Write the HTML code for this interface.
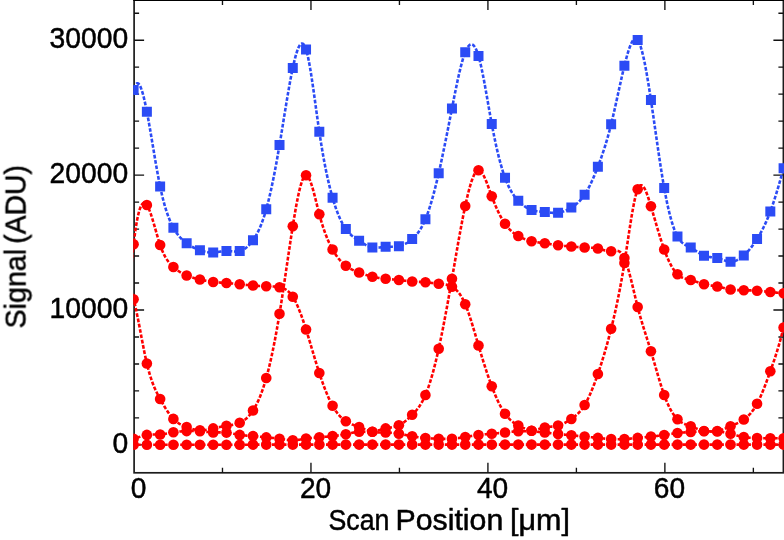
<!DOCTYPE html>
<html><head><meta charset="utf-8"><title>chart</title>
<style>
html,body{margin:0;padding:0;background:#fff;}
body{width:784px;height:540px;overflow:hidden;}
svg{display:block;}
text{will-change:transform;font-family:"Liberation Sans",sans-serif;fill:#000;stroke:#000;stroke-width:0.5px;stroke-linejoin:round;}
</style></head><body>
<svg width="784" height="540" viewBox="0 0 784 540">
<rect width="784" height="540" fill="#fff"/>
<defs><clipPath id="cp"><rect x="133.35" y="0" width="651" height="473.6"/></clipPath></defs>

<g stroke="#1c1c1c" fill="none">
<rect x="134.1" y="0.1" width="649.30" height="472.70" stroke-width="1.7"/>
<path d="M134.1,444.90h10 M783.4,444.90h-10 M134.1,417.92h5 M783.4,417.92h-5 M134.1,390.94h5 M783.4,390.94h-5 M134.1,363.96h5 M783.4,363.96h-5 M134.1,336.98h5 M783.4,336.98h-5 M134.1,310.00h10 M783.4,310.00h-10 M134.1,283.02h5 M783.4,283.02h-5 M134.1,256.04h5 M783.4,256.04h-5 M134.1,229.06h5 M783.4,229.06h-5 M134.1,202.08h5 M783.4,202.08h-5 M134.1,175.10h10 M783.4,175.10h-10 M134.1,148.12h5 M783.4,148.12h-5 M134.1,121.14h5 M783.4,121.14h-5 M134.1,94.16h5 M783.4,94.16h-5 M134.1,67.18h5 M783.4,67.18h-5 M134.1,40.20h10 M783.4,40.20h-10 M134.1,13.22h5 M783.4,13.22h-5 M222.48,472.8v-5 M222.48,0.1v5 M310.96,472.8v-10 M310.96,0.1v10 M399.44,472.8v-5 M399.44,0.1v5 M487.92,472.8v-10 M487.92,0.1v10 M576.40,472.8v-5 M576.40,0.1v5 M664.88,472.8v-10 M664.88,0.1v10 M753.36,472.8v-5 M753.36,0.1v5" stroke="#111" stroke-width="1.35"/>
<rect x="133.25" y="0" width="651" height="1" fill="#000" stroke="none"/>
</g>
<g clip-path="url(#cp)">
<path d="M131.60,444.80 L132.10,444.80 L132.60,444.80 L133.10,444.80 L133.60,444.80 L134.10,444.80 L134.60,444.80 L135.10,444.80 L135.60,444.80 L136.10,444.80 L136.60,444.80 L137.10,444.80 L137.60,444.80 L138.10,444.80 L138.60,444.80 L139.10,444.80 L139.60,444.80 L140.10,444.80 L140.60,444.80 L141.10,444.80 L141.60,444.80 L142.10,444.80 L142.60,444.80 L143.10,444.80 L143.60,444.80 L144.10,444.80 L144.60,444.80 L145.10,444.80 L145.60,444.80 L146.10,444.80 L146.60,444.80 L147.10,444.80 L147.60,444.80 L148.10,444.80 L148.60,444.80 L149.10,444.80 L149.60,444.80 L150.10,444.80 L150.60,444.80 L151.10,444.80 L151.60,444.80 L152.10,444.80 L152.60,444.80 L153.10,444.80 L153.60,444.80 L154.10,444.80 L154.60,444.80 L155.10,444.80 L155.60,444.80 L156.10,444.80 L156.60,444.80 L157.10,444.80 L157.60,444.80 L158.10,444.80 L158.60,444.80 L159.10,444.80 L159.60,444.80 L160.10,444.80 L160.60,444.80 L161.10,444.80 L161.60,444.80 L162.10,444.80 L162.60,444.80 L163.10,444.80 L163.60,444.80 L164.10,444.80 L164.60,444.80 L165.10,444.80 L165.60,444.80 L166.10,444.80 L166.60,444.80 L167.10,444.80 L167.60,444.80 L168.10,444.80 L168.60,444.80 L169.10,444.80 L169.60,444.80 L170.10,444.80 L170.60,444.80 L171.10,444.80 L171.60,444.80 L172.10,444.80 L172.60,444.80 L173.10,444.80 L173.60,444.80 L174.10,444.80 L174.60,444.80 L175.10,444.80 L175.60,444.80 L176.10,444.80 L176.60,444.80 L177.10,444.80 L177.60,444.80 L178.10,444.80 L178.60,444.80 L179.10,444.80 L179.60,444.80 L180.10,444.80 L180.60,444.80 L181.10,444.80 L181.60,444.80 L182.10,444.80 L182.60,444.80 L183.10,444.80 L183.60,444.80 L184.10,444.80 L184.60,444.80 L185.10,444.80 L185.60,444.80 L186.10,444.80 L186.60,444.80 L187.10,444.80 L187.60,444.80 L188.10,444.80 L188.60,444.80 L189.10,444.80 L189.60,444.80 L190.10,444.80 L190.60,444.80 L191.10,444.80 L191.60,444.80 L192.10,444.80 L192.60,444.80 L193.10,444.80 L193.60,444.80 L194.10,444.80 L194.60,444.80 L195.10,444.80 L195.60,444.80 L196.10,444.80 L196.60,444.80 L197.10,444.80 L197.60,444.80 L198.10,444.80 L198.60,444.80 L199.10,444.80 L199.60,444.80 L200.10,444.80 L200.60,444.80 L201.10,444.80 L201.60,444.80 L202.10,444.80 L202.60,444.80 L203.10,444.80 L203.60,444.80 L204.10,444.80 L204.60,444.80 L205.10,444.80 L205.60,444.80 L206.10,444.80 L206.60,444.80 L207.10,444.80 L207.60,444.80 L208.10,444.80 L208.60,444.80 L209.10,444.80 L209.60,444.80 L210.10,444.80 L210.60,444.80 L211.10,444.80 L211.60,444.80 L212.10,444.80 L212.60,444.80 L213.10,444.80 L213.60,444.80 L214.10,444.80 L214.60,444.80 L215.10,444.80 L215.60,444.80 L216.10,444.80 L216.60,444.80 L217.10,444.80 L217.60,444.80 L218.10,444.80 L218.60,444.80 L219.10,444.80 L219.60,444.79 L220.10,444.79 L220.60,444.79 L221.10,444.79 L221.60,444.79 L222.10,444.79 L222.60,444.79 L223.10,444.79 L223.60,444.80 L224.10,444.80 L224.60,444.80 L225.10,444.80 L225.60,444.80 L226.10,444.80 L226.60,444.80 L227.10,444.80 L227.60,444.80 L228.10,444.80 L228.60,444.81 L229.10,444.81 L229.60,444.81 L230.10,444.81 L230.60,444.81 L231.10,444.82 L231.60,444.82 L232.10,444.82 L232.60,444.82 L233.10,444.82 L233.60,444.82 L234.10,444.82 L234.60,444.82 L235.10,444.82 L235.60,444.82 L236.10,444.82 L236.60,444.82 L237.10,444.82 L237.60,444.82 L238.10,444.81 L238.60,444.81 L239.10,444.81 L239.60,444.80 L240.10,444.80 L240.60,444.79 L241.10,444.78 L241.60,444.78 L242.10,444.77 L242.60,444.76 L243.10,444.76 L243.60,444.75 L244.10,444.74 L244.60,444.73 L245.10,444.72 L245.60,444.71 L246.10,444.70 L246.60,444.70 L247.10,444.69 L247.60,444.68 L248.10,444.67 L248.60,444.66 L249.10,444.65 L249.60,444.64 L250.10,444.64 L250.60,444.63 L251.10,444.62 L251.60,444.62 L252.10,444.61 L252.60,444.60 L253.10,444.60 L253.60,444.59 L254.10,444.59 L254.60,444.59 L255.10,444.58 L255.60,444.58 L256.10,444.58 L256.60,444.58 L257.10,444.58 L257.60,444.58 L258.10,444.58 L258.60,444.58 L259.10,444.58 L259.60,444.58 L260.10,444.58 L260.60,444.58 L261.10,444.58 L261.60,444.58 L262.10,444.59 L262.60,444.59 L263.10,444.59 L263.60,444.59 L264.10,444.59 L264.60,444.60 L265.10,444.60 L265.60,444.60 L266.10,444.60 L266.60,444.60 L267.10,444.60 L267.60,444.60 L268.10,444.60 L268.60,444.60 L269.10,444.60 L269.60,444.61 L270.10,444.61 L270.60,444.61 L271.10,444.61 L271.60,444.61 L272.10,444.61 L272.60,444.61 L273.10,444.61 L273.60,444.60 L274.10,444.60 L274.60,444.60 L275.10,444.60 L275.60,444.60 L276.10,444.60 L276.60,444.60 L277.10,444.60 L277.60,444.60 L278.10,444.60 L278.60,444.60 L279.10,444.60 L279.60,444.60 L280.10,444.60 L280.60,444.60 L281.10,444.60 L281.60,444.60 L282.10,444.60 L282.60,444.60 L283.10,444.60 L283.60,444.60 L284.10,444.60 L284.60,444.60 L285.10,444.60 L285.60,444.60 L286.10,444.60 L286.60,444.60 L287.10,444.60 L287.60,444.60 L288.10,444.60 L288.60,444.60 L289.10,444.60 L289.60,444.60 L290.10,444.60 L290.60,444.60 L291.10,444.60 L291.60,444.60 L292.10,444.60 L292.60,444.60 L293.10,444.60 L293.60,444.60 L294.10,444.60 L294.60,444.60 L295.10,444.60 L295.60,444.60 L296.10,444.60 L296.60,444.60 L297.10,444.60 L297.60,444.60 L298.10,444.60 L298.60,444.60 L299.10,444.60 L299.60,444.60 L300.10,444.60 L300.60,444.60 L301.10,444.60 L301.60,444.60 L302.10,444.60 L302.60,444.60 L303.10,444.60 L303.60,444.60 L304.10,444.60 L304.60,444.60 L305.10,444.60 L305.60,444.60 L306.10,444.60 L306.60,444.60 L307.10,444.60 L307.60,444.60 L308.10,444.60 L308.60,444.60 L309.10,444.60 L309.60,444.60 L310.10,444.60 L310.60,444.60 L311.10,444.60 L311.60,444.60 L312.10,444.60 L312.60,444.60 L313.10,444.60 L313.60,444.60 L314.10,444.60 L314.60,444.60 L315.10,444.60 L315.60,444.60 L316.10,444.60 L316.60,444.60 L317.10,444.60 L317.60,444.60 L318.10,444.60 L318.60,444.60 L319.10,444.60 L319.60,444.60 L320.10,444.60 L320.60,444.60 L321.10,444.60 L321.60,444.60 L322.10,444.60 L322.60,444.60 L323.10,444.60 L323.60,444.60 L324.10,444.60 L324.60,444.60 L325.10,444.60 L325.60,444.60 L326.10,444.60 L326.60,444.60 L327.10,444.60 L327.60,444.60 L328.10,444.60 L328.60,444.60 L329.10,444.60 L329.60,444.60 L330.10,444.60 L330.60,444.60 L331.10,444.60 L331.60,444.60 L332.10,444.60 L332.60,444.60 L333.10,444.60 L333.60,444.60 L334.10,444.60 L334.60,444.60 L335.10,444.60 L335.60,444.60 L336.10,444.60 L336.60,444.60 L337.10,444.60 L337.60,444.60 L338.10,444.60 L338.60,444.60 L339.10,444.60 L339.60,444.60 L340.10,444.60 L340.60,444.60 L341.10,444.60 L341.60,444.60 L342.10,444.60 L342.60,444.60 L343.10,444.60 L343.60,444.60 L344.10,444.60 L344.60,444.60 L345.10,444.60 L345.60,444.60 L346.10,444.60 L346.60,444.60 L347.10,444.60 L347.60,444.60 L348.10,444.60 L348.60,444.60 L349.10,444.60 L349.60,444.60 L350.10,444.60 L350.60,444.60 L351.10,444.60 L351.60,444.60 L352.10,444.60 L352.60,444.60 L353.10,444.60 L353.60,444.60 L354.10,444.60 L354.60,444.60 L355.10,444.60 L355.60,444.60 L356.10,444.60 L356.60,444.60 L357.10,444.60 L357.60,444.60 L358.10,444.60 L358.60,444.60 L359.10,444.60 L359.60,444.60 L360.10,444.60 L360.60,444.60 L361.10,444.60 L361.60,444.60 L362.10,444.60 L362.60,444.60 L363.10,444.60 L363.60,444.60 L364.10,444.60 L364.60,444.60 L365.10,444.60 L365.60,444.60 L366.10,444.60 L366.60,444.60 L367.10,444.60 L367.60,444.60 L368.10,444.60 L368.60,444.60 L369.10,444.60 L369.60,444.60 L370.10,444.60 L370.60,444.60 L371.10,444.60 L371.60,444.60 L372.10,444.60 L372.60,444.60 L373.10,444.60 L373.60,444.60 L374.10,444.60 L374.60,444.60 L375.10,444.60 L375.60,444.60 L376.10,444.60 L376.60,444.60 L377.10,444.60 L377.60,444.60 L378.10,444.60 L378.60,444.60 L379.10,444.60 L379.60,444.60 L380.10,444.60 L380.60,444.60 L381.10,444.60 L381.60,444.60 L382.10,444.60 L382.60,444.60 L383.10,444.60 L383.60,444.60 L384.10,444.60 L384.60,444.60 L385.10,444.60 L385.60,444.60 L386.10,444.60 L386.60,444.60 L387.10,444.60 L387.60,444.60 L388.10,444.60 L388.60,444.60 L389.10,444.60 L389.60,444.60 L390.10,444.60 L390.60,444.60 L391.10,444.60 L391.60,444.60 L392.10,444.60 L392.60,444.60 L393.10,444.60 L393.60,444.60 L394.10,444.60 L394.60,444.60 L395.10,444.60 L395.60,444.60 L396.10,444.60 L396.60,444.60 L397.10,444.60 L397.60,444.60 L398.10,444.60 L398.60,444.60 L399.10,444.60 L399.60,444.60 L400.10,444.60 L400.60,444.60 L401.10,444.60 L401.60,444.60 L402.10,444.60 L402.60,444.60 L403.10,444.60 L403.60,444.60 L404.10,444.60 L404.60,444.60 L405.10,444.60 L405.60,444.60 L406.10,444.60 L406.60,444.60 L407.10,444.60 L407.60,444.60 L408.10,444.60 L408.60,444.60 L409.10,444.60 L409.60,444.60 L410.10,444.60 L410.60,444.60 L411.10,444.60 L411.60,444.60 L412.10,444.60 L412.60,444.60 L413.10,444.60 L413.60,444.60 L414.10,444.60 L414.60,444.60 L415.10,444.60 L415.60,444.60 L416.10,444.60 L416.60,444.60 L417.10,444.60 L417.60,444.60 L418.10,444.60 L418.60,444.60 L419.10,444.60 L419.60,444.60 L420.10,444.60 L420.60,444.60 L421.10,444.60 L421.60,444.60 L422.10,444.60 L422.60,444.60 L423.10,444.60 L423.60,444.60 L424.10,444.60 L424.60,444.60 L425.10,444.60 L425.60,444.60 L426.10,444.60 L426.60,444.60 L427.10,444.60 L427.60,444.60 L428.10,444.60 L428.60,444.60 L429.10,444.60 L429.60,444.60 L430.10,444.60 L430.60,444.60 L431.10,444.60 L431.60,444.60 L432.10,444.60 L432.60,444.60 L433.10,444.60 L433.60,444.60 L434.10,444.60 L434.60,444.60 L435.10,444.60 L435.60,444.60 L436.10,444.60 L436.60,444.60 L437.10,444.60 L437.60,444.60 L438.10,444.60 L438.60,444.60 L439.10,444.60 L439.60,444.60 L440.10,444.60 L440.60,444.60 L441.10,444.60 L441.60,444.60 L442.10,444.60 L442.60,444.60 L443.10,444.60 L443.60,444.60 L444.10,444.60 L444.60,444.60 L445.10,444.60 L445.60,444.60 L446.10,444.60 L446.60,444.60 L447.10,444.60 L447.60,444.60 L448.10,444.60 L448.60,444.60 L449.10,444.60 L449.60,444.60 L450.10,444.60 L450.60,444.60 L451.10,444.60 L451.60,444.60 L452.10,444.60 L452.60,444.60 L453.10,444.60 L453.60,444.60 L454.10,444.60 L454.60,444.60 L455.10,444.60 L455.60,444.60 L456.10,444.60 L456.60,444.60 L457.10,444.60 L457.60,444.60 L458.10,444.60 L458.60,444.60 L459.10,444.60 L459.60,444.60 L460.10,444.60 L460.60,444.60 L461.10,444.60 L461.60,444.60 L462.10,444.60 L462.60,444.60 L463.10,444.60 L463.60,444.60 L464.10,444.60 L464.60,444.60 L465.10,444.60 L465.60,444.60 L466.10,444.60 L466.60,444.60 L467.10,444.60 L467.60,444.60 L468.10,444.60 L468.60,444.60 L469.10,444.60 L469.60,444.60 L470.10,444.60 L470.60,444.60 L471.10,444.60 L471.60,444.60 L472.10,444.60 L472.60,444.60 L473.10,444.60 L473.60,444.60 L474.10,444.60 L474.60,444.60 L475.10,444.60 L475.60,444.60 L476.10,444.60 L476.60,444.60 L477.10,444.60 L477.60,444.60 L478.10,444.60 L478.60,444.60 L479.10,444.60 L479.60,444.60 L480.10,444.60 L480.60,444.60 L481.10,444.60 L481.60,444.60 L482.10,444.60 L482.60,444.60 L483.10,444.60 L483.60,444.60 L484.10,444.60 L484.60,444.60 L485.10,444.60 L485.60,444.60 L486.10,444.60 L486.60,444.60 L487.10,444.60 L487.60,444.60 L488.10,444.60 L488.60,444.60 L489.10,444.60 L489.60,444.60 L490.10,444.60 L490.60,444.60 L491.10,444.60 L491.60,444.60 L492.10,444.60 L492.60,444.60 L493.10,444.60 L493.60,444.60 L494.10,444.60 L494.60,444.60 L495.10,444.60 L495.60,444.60 L496.10,444.60 L496.60,444.60 L497.10,444.60 L497.60,444.60 L498.10,444.60 L498.60,444.60 L499.10,444.60 L499.60,444.60 L500.10,444.60 L500.60,444.60 L501.10,444.60 L501.60,444.60 L502.10,444.60 L502.60,444.60 L503.10,444.60 L503.60,444.60 L504.10,444.60 L504.60,444.60 L505.10,444.60 L505.60,444.60 L506.10,444.60 L506.60,444.60 L507.10,444.60 L507.60,444.60 L508.10,444.60 L508.60,444.60 L509.10,444.60 L509.60,444.60 L510.10,444.60 L510.60,444.60 L511.10,444.60 L511.60,444.60 L512.10,444.60 L512.60,444.60 L513.10,444.60 L513.60,444.60 L514.10,444.60 L514.60,444.60 L515.10,444.60 L515.60,444.60 L516.10,444.60 L516.60,444.60 L517.10,444.60 L517.60,444.60 L518.10,444.60 L518.60,444.60 L519.10,444.60 L519.60,444.60 L520.10,444.60 L520.60,444.60 L521.10,444.60 L521.60,444.60 L522.10,444.60 L522.60,444.60 L523.10,444.60 L523.60,444.60 L524.10,444.60 L524.60,444.60 L525.10,444.60 L525.60,444.60 L526.10,444.60 L526.60,444.60 L527.10,444.60 L527.60,444.60 L528.10,444.60 L528.60,444.60 L529.10,444.60 L529.60,444.60 L530.10,444.60 L530.60,444.60 L531.10,444.60 L531.60,444.60 L532.10,444.60 L532.60,444.60 L533.10,444.60 L533.60,444.60 L534.10,444.60 L534.60,444.60 L535.10,444.60 L535.60,444.60 L536.10,444.60 L536.60,444.60 L537.10,444.60 L537.60,444.60 L538.10,444.60 L538.60,444.60 L539.10,444.60 L539.60,444.60 L540.10,444.60 L540.60,444.60 L541.10,444.60 L541.60,444.60 L542.10,444.60 L542.60,444.60 L543.10,444.60 L543.60,444.60 L544.10,444.60 L544.60,444.60 L545.10,444.60 L545.60,444.60 L546.10,444.60 L546.60,444.60 L547.10,444.60 L547.60,444.60 L548.10,444.60 L548.60,444.60 L549.10,444.60 L549.60,444.60 L550.10,444.60 L550.60,444.60 L551.10,444.60 L551.60,444.60 L552.10,444.60 L552.60,444.60 L553.10,444.60 L553.60,444.60 L554.10,444.60 L554.60,444.60 L555.10,444.60 L555.60,444.60 L556.10,444.60 L556.60,444.60 L557.10,444.60 L557.60,444.60 L558.10,444.60 L558.60,444.60 L559.10,444.60 L559.60,444.60 L560.10,444.60 L560.60,444.60 L561.10,444.60 L561.60,444.60 L562.10,444.60 L562.60,444.60 L563.10,444.60 L563.60,444.60 L564.10,444.60 L564.60,444.60 L565.10,444.60 L565.60,444.60 L566.10,444.60 L566.60,444.60 L567.10,444.60 L567.60,444.60 L568.10,444.60 L568.60,444.60 L569.10,444.60 L569.60,444.60 L570.10,444.60 L570.60,444.60 L571.10,444.60 L571.60,444.60 L572.10,444.60 L572.60,444.60 L573.10,444.60 L573.60,444.60 L574.10,444.60 L574.60,444.60 L575.10,444.60 L575.60,444.60 L576.10,444.60 L576.60,444.60 L577.10,444.60 L577.60,444.60 L578.10,444.60 L578.60,444.60 L579.10,444.60 L579.60,444.60 L580.10,444.60 L580.60,444.60 L581.10,444.60 L581.60,444.60 L582.10,444.60 L582.60,444.60 L583.10,444.60 L583.60,444.60 L584.10,444.60 L584.60,444.60 L585.10,444.60 L585.60,444.60 L586.10,444.60 L586.60,444.60 L587.10,444.60 L587.60,444.60 L588.10,444.60 L588.60,444.60 L589.10,444.60 L589.60,444.60 L590.10,444.60 L590.60,444.60 L591.10,444.60 L591.60,444.60 L592.10,444.60 L592.60,444.60 L593.10,444.60 L593.60,444.60 L594.10,444.60 L594.60,444.60 L595.10,444.60 L595.60,444.60 L596.10,444.60 L596.60,444.60 L597.10,444.60 L597.60,444.60 L598.10,444.60 L598.60,444.60 L599.10,444.60 L599.60,444.60 L600.10,444.60 L600.60,444.60 L601.10,444.60 L601.60,444.60 L602.10,444.60 L602.60,444.60 L603.10,444.60 L603.60,444.60 L604.10,444.60 L604.60,444.60 L605.10,444.60 L605.60,444.60 L606.10,444.60 L606.60,444.60 L607.10,444.60 L607.60,444.60 L608.10,444.60 L608.60,444.60 L609.10,444.60 L609.60,444.60 L610.10,444.60 L610.60,444.60 L611.10,444.60 L611.60,444.60 L612.10,444.60 L612.60,444.60 L613.10,444.60 L613.60,444.60 L614.10,444.60 L614.60,444.60 L615.10,444.60 L615.60,444.60 L616.10,444.60 L616.60,444.60 L617.10,444.60 L617.60,444.60 L618.10,444.60 L618.60,444.60 L619.10,444.60 L619.60,444.60 L620.10,444.60 L620.60,444.60 L621.10,444.60 L621.60,444.60 L622.10,444.60 L622.60,444.60 L623.10,444.60 L623.60,444.60 L624.10,444.60 L624.60,444.60 L625.10,444.60 L625.60,444.60 L626.10,444.60 L626.60,444.60 L627.10,444.60 L627.60,444.60 L628.10,444.60 L628.60,444.60 L629.10,444.60 L629.60,444.60 L630.10,444.60 L630.60,444.60 L631.10,444.60 L631.60,444.60 L632.10,444.60 L632.60,444.60 L633.10,444.60 L633.60,444.60 L634.10,444.60 L634.60,444.60 L635.10,444.60 L635.60,444.60 L636.10,444.60 L636.60,444.60 L637.10,444.60 L637.60,444.60 L638.10,444.60 L638.60,444.60 L639.10,444.60 L639.60,444.60 L640.10,444.60 L640.60,444.60 L641.10,444.60 L641.60,444.60 L642.10,444.60 L642.60,444.60 L643.10,444.60 L643.60,444.60 L644.10,444.60 L644.60,444.60 L645.10,444.60 L645.60,444.60 L646.10,444.60 L646.60,444.60 L647.10,444.60 L647.60,444.60 L648.10,444.60 L648.60,444.60 L649.10,444.60 L649.60,444.60 L650.10,444.60 L650.60,444.60 L651.10,444.60 L651.60,444.60 L652.10,444.60 L652.60,444.60 L653.10,444.60 L653.60,444.60 L654.10,444.60 L654.60,444.60 L655.10,444.60 L655.60,444.60 L656.10,444.60 L656.60,444.60 L657.10,444.60 L657.60,444.60 L658.10,444.60 L658.60,444.60 L659.10,444.60 L659.60,444.60 L660.10,444.60 L660.60,444.60 L661.10,444.60 L661.60,444.60 L662.10,444.60 L662.60,444.60 L663.10,444.60 L663.60,444.60 L664.10,444.60 L664.60,444.60 L665.10,444.60 L665.60,444.60 L666.10,444.60 L666.60,444.60 L667.10,444.60 L667.60,444.60 L668.10,444.60 L668.60,444.60 L669.10,444.60 L669.60,444.60 L670.10,444.60 L670.60,444.60 L671.10,444.60 L671.60,444.60 L672.10,444.60 L672.60,444.60 L673.10,444.60 L673.60,444.60 L674.10,444.60 L674.60,444.60 L675.10,444.60 L675.60,444.60 L676.10,444.60 L676.60,444.60 L677.10,444.60 L677.60,444.60 L678.10,444.60 L678.60,444.60 L679.10,444.60 L679.60,444.60 L680.10,444.60 L680.60,444.60 L681.10,444.60 L681.60,444.60 L682.10,444.60 L682.60,444.60 L683.10,444.60 L683.60,444.60 L684.10,444.60 L684.60,444.60 L685.10,444.60 L685.60,444.60 L686.10,444.60 L686.60,444.60 L687.10,444.60 L687.60,444.60 L688.10,444.60 L688.60,444.60 L689.10,444.60 L689.60,444.60 L690.10,444.60 L690.60,444.60 L691.10,444.60 L691.60,444.60 L692.10,444.60 L692.60,444.60 L693.10,444.60 L693.60,444.60 L694.10,444.60 L694.60,444.60 L695.10,444.60 L695.60,444.60 L696.10,444.60 L696.60,444.60 L697.10,444.60 L697.60,444.60 L698.10,444.60 L698.60,444.60 L699.10,444.60 L699.60,444.60 L700.10,444.60 L700.60,444.60 L701.10,444.60 L701.60,444.60 L702.10,444.60 L702.60,444.60 L703.10,444.60 L703.60,444.60 L704.10,444.60 L704.60,444.60 L705.10,444.60 L705.60,444.60 L706.10,444.60 L706.60,444.60 L707.10,444.60 L707.60,444.60 L708.10,444.60 L708.60,444.60 L709.10,444.60 L709.60,444.60 L710.10,444.60 L710.60,444.60 L711.10,444.60 L711.60,444.60 L712.10,444.60 L712.60,444.60 L713.10,444.60 L713.60,444.60 L714.10,444.60 L714.60,444.60 L715.10,444.60 L715.60,444.60 L716.10,444.60 L716.60,444.60 L717.10,444.60 L717.60,444.60 L718.10,444.60 L718.60,444.60 L719.10,444.60 L719.60,444.60 L720.10,444.60 L720.60,444.60 L721.10,444.60 L721.60,444.60 L722.10,444.60 L722.60,444.60 L723.10,444.60 L723.60,444.60 L724.10,444.60 L724.60,444.60 L725.10,444.60 L725.60,444.60 L726.10,444.60 L726.60,444.60 L727.10,444.60 L727.60,444.60 L728.10,444.60 L728.60,444.60 L729.10,444.60 L729.60,444.60 L730.10,444.60 L730.60,444.60 L731.10,444.60 L731.60,444.60 L732.10,444.60 L732.60,444.60 L733.10,444.60 L733.60,444.60 L734.10,444.60 L734.60,444.60 L735.10,444.60 L735.60,444.60 L736.10,444.60 L736.60,444.60 L737.10,444.60 L737.60,444.60 L738.10,444.60 L738.60,444.60 L739.10,444.60 L739.60,444.60 L740.10,444.60 L740.60,444.60 L741.10,444.60 L741.60,444.60 L742.10,444.60 L742.60,444.60 L743.10,444.60 L743.60,444.60 L744.10,444.60 L744.60,444.60 L745.10,444.60 L745.60,444.60 L746.10,444.60 L746.60,444.60 L747.10,444.60 L747.60,444.60 L748.10,444.60 L748.60,444.60 L749.10,444.60 L749.60,444.60 L750.10,444.60 L750.60,444.60 L751.10,444.60 L751.60,444.60 L752.10,444.60 L752.60,444.60 L753.10,444.60 L753.60,444.60 L754.10,444.60 L754.60,444.60 L755.10,444.60 L755.60,444.60 L756.10,444.60 L756.60,444.60 L757.10,444.60 L757.60,444.60 L758.10,444.60 L758.60,444.60 L759.10,444.60 L759.60,444.60 L760.10,444.60 L760.60,444.60 L761.10,444.60 L761.60,444.60 L762.10,444.60 L762.60,444.60 L763.10,444.60 L763.60,444.60 L764.10,444.60 L764.60,444.60 L765.10,444.60 L765.60,444.60 L766.10,444.60 L766.60,444.60 L767.10,444.60 L767.60,444.60 L768.10,444.60 L768.60,444.60 L769.10,444.60 L769.60,444.60 L770.10,444.60 L770.60,444.60 L771.10,444.60 L771.60,444.60 L772.10,444.60 L772.60,444.60 L773.10,444.60 L773.60,444.60 L774.10,444.60 L774.60,444.60 L775.10,444.60 L775.60,444.60 L776.10,444.60 L776.60,444.60 L777.10,444.60 L777.60,444.60 L778.10,444.60 L778.60,444.60 L779.10,444.60 L779.60,444.60 L780.10,444.60 L780.60,444.60 L781.10,444.60 L781.60,444.60 L782.10,444.60 L782.60,444.60 L783.10,444.60 L783.60,444.60 L784.10,444.60 L784.60,444.60 L785.10,444.60" fill="none" stroke="#ff0000" stroke-width="2.6" stroke-dasharray="3.7 1.7"/>
<circle cx="133.60" cy="444.80" r="5.3" fill="#ff0000"/>
<circle cx="146.87" cy="444.80" r="5.3" fill="#ff0000"/>
<circle cx="160.13" cy="444.80" r="5.3" fill="#ff0000"/>
<circle cx="173.39" cy="444.80" r="5.3" fill="#ff0000"/>
<circle cx="186.66" cy="444.80" r="5.3" fill="#ff0000"/>
<circle cx="199.93" cy="444.80" r="5.3" fill="#ff0000"/>
<circle cx="213.19" cy="444.80" r="5.3" fill="#ff0000"/>
<circle cx="226.45" cy="444.80" r="5.3" fill="#ff0000"/>
<circle cx="239.72" cy="444.80" r="5.3" fill="#ff0000"/>
<circle cx="252.99" cy="444.60" r="5.3" fill="#ff0000"/>
<circle cx="266.25" cy="444.60" r="5.3" fill="#ff0000"/>
<circle cx="279.51" cy="444.60" r="5.3" fill="#ff0000"/>
<circle cx="292.78" cy="444.60" r="5.3" fill="#ff0000"/>
<circle cx="306.04" cy="444.60" r="5.3" fill="#ff0000"/>
<circle cx="319.31" cy="444.60" r="5.3" fill="#ff0000"/>
<circle cx="332.58" cy="444.60" r="5.3" fill="#ff0000"/>
<circle cx="345.84" cy="444.60" r="5.3" fill="#ff0000"/>
<circle cx="359.11" cy="444.60" r="5.3" fill="#ff0000"/>
<circle cx="372.37" cy="444.60" r="5.3" fill="#ff0000"/>
<circle cx="385.63" cy="444.60" r="5.3" fill="#ff0000"/>
<circle cx="398.90" cy="444.60" r="5.3" fill="#ff0000"/>
<circle cx="412.16" cy="444.60" r="5.3" fill="#ff0000"/>
<circle cx="425.43" cy="444.60" r="5.3" fill="#ff0000"/>
<circle cx="438.70" cy="444.60" r="5.3" fill="#ff0000"/>
<circle cx="451.96" cy="444.60" r="5.3" fill="#ff0000"/>
<circle cx="465.23" cy="444.60" r="5.3" fill="#ff0000"/>
<circle cx="478.49" cy="444.60" r="5.3" fill="#ff0000"/>
<circle cx="491.75" cy="444.60" r="5.3" fill="#ff0000"/>
<circle cx="505.02" cy="444.60" r="5.3" fill="#ff0000"/>
<circle cx="518.28" cy="444.60" r="5.3" fill="#ff0000"/>
<circle cx="531.55" cy="444.60" r="5.3" fill="#ff0000"/>
<circle cx="544.82" cy="444.60" r="5.3" fill="#ff0000"/>
<circle cx="558.08" cy="444.60" r="5.3" fill="#ff0000"/>
<circle cx="571.35" cy="444.60" r="5.3" fill="#ff0000"/>
<circle cx="584.61" cy="444.60" r="5.3" fill="#ff0000"/>
<circle cx="597.88" cy="444.60" r="5.3" fill="#ff0000"/>
<circle cx="611.14" cy="444.60" r="5.3" fill="#ff0000"/>
<circle cx="624.40" cy="444.60" r="5.3" fill="#ff0000"/>
<circle cx="637.67" cy="444.60" r="5.3" fill="#ff0000"/>
<circle cx="650.94" cy="444.60" r="5.3" fill="#ff0000"/>
<circle cx="664.20" cy="444.60" r="5.3" fill="#ff0000"/>
<circle cx="677.47" cy="444.60" r="5.3" fill="#ff0000"/>
<circle cx="690.73" cy="444.60" r="5.3" fill="#ff0000"/>
<circle cx="704.00" cy="444.60" r="5.3" fill="#ff0000"/>
<circle cx="717.26" cy="444.60" r="5.3" fill="#ff0000"/>
<circle cx="730.53" cy="444.60" r="5.3" fill="#ff0000"/>
<circle cx="743.79" cy="444.60" r="5.3" fill="#ff0000"/>
<circle cx="757.06" cy="444.60" r="5.3" fill="#ff0000"/>
<circle cx="770.32" cy="444.60" r="5.3" fill="#ff0000"/>
<circle cx="783.59" cy="444.60" r="5.3" fill="#ff0000"/>
<path d="M131.60,439.12 L132.10,439.03 L132.60,438.93 L133.10,438.82 L133.60,438.70 L134.10,438.58 L134.60,438.44 L135.10,438.30 L135.60,438.16 L136.10,438.01 L136.60,437.86 L137.10,437.70 L137.60,437.54 L138.10,437.37 L138.60,437.21 L139.10,437.04 L139.60,436.88 L140.10,436.71 L140.60,436.55 L141.10,436.38 L141.60,436.22 L142.10,436.07 L142.60,435.92 L143.10,435.77 L143.60,435.63 L144.10,435.49 L144.60,435.37 L145.10,435.25 L145.60,435.14 L146.10,435.04 L146.60,434.94 L147.10,434.86 L147.60,434.79 L148.10,434.73 L148.60,434.68 L149.10,434.64 L149.60,434.61 L150.10,434.58 L150.60,434.56 L151.10,434.55 L151.60,434.54 L152.10,434.53 L152.60,434.53 L153.10,434.54 L153.60,434.54 L154.10,434.55 L154.60,434.56 L155.10,434.56 L155.60,434.57 L156.10,434.58 L156.60,434.58 L157.10,434.58 L157.60,434.58 L158.10,434.58 L158.60,434.57 L159.10,434.55 L159.60,434.53 L160.10,434.50 L160.60,434.47 L161.10,434.42 L161.60,434.37 L162.10,434.32 L162.60,434.26 L163.10,434.19 L163.60,434.12 L164.10,434.04 L164.60,433.96 L165.10,433.87 L165.60,433.79 L166.10,433.70 L166.60,433.60 L167.10,433.51 L167.60,433.41 L168.10,433.31 L168.60,433.21 L169.10,433.11 L169.60,433.01 L170.10,432.91 L170.60,432.81 L171.10,432.72 L171.60,432.62 L172.10,432.53 L172.60,432.44 L173.10,432.35 L173.60,432.27 L174.10,432.19 L174.60,432.11 L175.10,432.03 L175.60,431.96 L176.10,431.90 L176.60,431.83 L177.10,431.77 L177.60,431.72 L178.10,431.66 L178.60,431.61 L179.10,431.56 L179.60,431.51 L180.10,431.47 L180.60,431.43 L181.10,431.39 L181.60,431.35 L182.10,431.32 L182.60,431.29 L183.10,431.26 L183.60,431.23 L184.10,431.21 L184.60,431.18 L185.10,431.16 L185.60,431.14 L186.10,431.12 L186.60,431.10 L187.10,431.09 L187.60,431.07 L188.10,431.06 L188.60,431.05 L189.10,431.04 L189.60,431.03 L190.10,431.02 L190.60,431.02 L191.10,431.01 L191.60,431.01 L192.10,431.01 L192.60,431.02 L193.10,431.02 L193.60,431.03 L194.10,431.04 L194.60,431.05 L195.10,431.06 L195.60,431.07 L196.10,431.09 L196.60,431.11 L197.10,431.13 L197.60,431.16 L198.10,431.18 L198.60,431.21 L199.10,431.24 L199.60,431.28 L200.10,431.31 L200.60,431.35 L201.10,431.39 L201.60,431.44 L202.10,431.48 L202.60,431.53 L203.10,431.58 L203.60,431.63 L204.10,431.68 L204.60,431.73 L205.10,431.78 L205.60,431.83 L206.10,431.88 L206.60,431.92 L207.10,431.97 L207.60,432.02 L208.10,432.07 L208.60,432.11 L209.10,432.15 L209.60,432.19 L210.10,432.23 L210.60,432.27 L211.10,432.30 L211.60,432.33 L212.10,432.36 L212.60,432.38 L213.10,432.40 L213.60,432.41 L214.10,432.42 L214.60,432.43 L215.10,432.43 L215.60,432.43 L216.10,432.43 L216.60,432.43 L217.10,432.43 L217.60,432.42 L218.10,432.41 L218.60,432.41 L219.10,432.40 L219.60,432.40 L220.10,432.39 L220.60,432.39 L221.10,432.39 L221.60,432.39 L222.10,432.39 L222.60,432.40 L223.10,432.41 L223.60,432.42 L224.10,432.44 L224.60,432.47 L225.10,432.49 L225.60,432.53 L226.10,432.57 L226.60,432.61 L227.10,432.67 L227.60,432.73 L228.10,432.79 L228.60,432.86 L229.10,432.93 L229.60,433.01 L230.10,433.10 L230.60,433.18 L231.10,433.27 L231.60,433.36 L232.10,433.46 L232.60,433.56 L233.10,433.65 L233.60,433.75 L234.10,433.85 L234.60,433.95 L235.10,434.05 L235.60,434.15 L236.10,434.25 L236.60,434.35 L237.10,434.45 L237.60,434.54 L238.10,434.63 L238.60,434.72 L239.10,434.80 L239.60,434.88 L240.10,434.96 L240.60,435.03 L241.10,435.10 L241.60,435.16 L242.10,435.22 L242.60,435.28 L243.10,435.33 L243.60,435.38 L244.10,435.43 L244.60,435.48 L245.10,435.52 L245.60,435.56 L246.10,435.60 L246.60,435.64 L247.10,435.68 L247.60,435.72 L248.10,435.75 L248.60,435.79 L249.10,435.82 L249.60,435.85 L250.10,435.89 L250.60,435.92 L251.10,435.96 L251.60,435.99 L252.10,436.03 L252.60,436.07 L253.10,436.11 L253.60,436.15 L254.10,436.19 L254.60,436.24 L255.10,436.28 L255.60,436.33 L256.10,436.38 L256.60,436.42 L257.10,436.47 L257.60,436.52 L258.10,436.57 L258.60,436.63 L259.10,436.68 L259.60,436.73 L260.10,436.78 L260.60,436.83 L261.10,436.89 L261.60,436.94 L262.10,436.99 L262.60,437.04 L263.10,437.09 L263.60,437.14 L264.10,437.19 L264.60,437.24 L265.10,437.29 L265.60,437.34 L266.10,437.39 L266.60,437.43 L267.10,437.48 L267.60,437.52 L268.10,437.56 L268.60,437.60 L269.10,437.65 L269.60,437.69 L270.10,437.73 L270.60,437.77 L271.10,437.81 L271.60,437.86 L272.10,437.90 L272.60,437.94 L273.10,437.99 L273.60,438.03 L274.10,438.08 L274.60,438.13 L275.10,438.17 L275.60,438.23 L276.10,438.28 L276.60,438.33 L277.10,438.39 L277.60,438.45 L278.10,438.51 L278.60,438.58 L279.10,438.64 L279.60,438.71 L280.10,438.79 L280.60,438.86 L281.10,438.94 L281.60,439.02 L282.10,439.10 L282.60,439.18 L283.10,439.26 L283.60,439.34 L284.10,439.42 L284.60,439.50 L285.10,439.58 L285.60,439.66 L286.10,439.73 L286.60,439.81 L287.10,439.88 L287.60,439.94 L288.10,440.00 L288.60,440.06 L289.10,440.11 L289.60,440.16 L290.10,440.20 L290.60,440.23 L291.10,440.26 L291.60,440.28 L292.10,440.29 L292.60,440.30 L293.10,440.30 L293.60,440.29 L294.10,440.27 L294.60,440.24 L295.10,440.21 L295.60,440.17 L296.10,440.12 L296.60,440.07 L297.10,440.01 L297.60,439.95 L298.10,439.88 L298.60,439.81 L299.10,439.74 L299.60,439.66 L300.10,439.58 L300.60,439.50 L301.10,439.42 L301.60,439.33 L302.10,439.25 L302.60,439.16 L303.10,439.08 L303.60,438.99 L304.10,438.91 L304.60,438.83 L305.10,438.75 L305.60,438.67 L306.10,438.59 L306.60,438.52 L307.10,438.45 L307.60,438.38 L308.10,438.32 L308.60,438.26 L309.10,438.20 L309.60,438.14 L310.10,438.08 L310.60,438.03 L311.10,437.98 L311.60,437.93 L312.10,437.88 L312.60,437.84 L313.10,437.79 L313.60,437.75 L314.10,437.71 L314.60,437.67 L315.10,437.63 L315.60,437.59 L316.10,437.55 L316.60,437.51 L317.10,437.47 L317.60,437.43 L318.10,437.39 L318.60,437.35 L319.10,437.32 L319.60,437.28 L320.10,437.24 L320.60,437.20 L321.10,437.16 L321.60,437.12 L322.10,437.08 L322.60,437.04 L323.10,436.99 L323.60,436.95 L324.10,436.91 L324.60,436.86 L325.10,436.82 L325.60,436.78 L326.10,436.73 L326.60,436.69 L327.10,436.64 L327.60,436.59 L328.10,436.55 L328.60,436.50 L329.10,436.45 L329.60,436.40 L330.10,436.35 L330.60,436.30 L331.10,436.25 L331.60,436.20 L332.10,436.15 L332.60,436.10 L333.10,436.04 L333.60,435.99 L334.10,435.94 L334.60,435.88 L335.10,435.82 L335.60,435.77 L336.10,435.71 L336.60,435.65 L337.10,435.59 L337.60,435.52 L338.10,435.46 L338.60,435.39 L339.10,435.32 L339.60,435.25 L340.10,435.18 L340.60,435.11 L341.10,435.03 L341.60,434.96 L342.10,434.88 L342.60,434.79 L343.10,434.71 L343.60,434.62 L344.10,434.53 L344.60,434.44 L345.10,434.35 L345.60,434.25 L346.10,434.15 L346.60,434.04 L347.10,433.94 L347.60,433.83 L348.10,433.72 L348.60,433.61 L349.10,433.50 L349.60,433.39 L350.10,433.28 L350.60,433.17 L351.10,433.06 L351.60,432.95 L352.10,432.84 L352.60,432.74 L353.10,432.64 L353.60,432.54 L354.10,432.45 L354.60,432.36 L355.10,432.27 L355.60,432.19 L356.10,432.12 L356.60,432.05 L357.10,431.98 L357.60,431.93 L358.10,431.88 L358.60,431.83 L359.10,431.80 L359.60,431.77 L360.10,431.76 L360.60,431.74 L361.10,431.74 L361.60,431.74 L362.10,431.74 L362.60,431.75 L363.10,431.76 L363.60,431.78 L364.10,431.80 L364.60,431.81 L365.10,431.83 L365.60,431.85 L366.10,431.87 L366.60,431.88 L367.10,431.90 L367.60,431.90 L368.10,431.91 L368.60,431.91 L369.10,431.91 L369.60,431.90 L370.10,431.88 L370.60,431.86 L371.10,431.82 L371.60,431.78 L372.10,431.73 L372.60,431.67 L373.10,431.60 L373.60,431.52 L374.10,431.43 L374.60,431.33 L375.10,431.22 L375.60,431.11 L376.10,430.99 L376.60,430.86 L377.10,430.73 L377.60,430.60 L378.10,430.46 L378.60,430.32 L379.10,430.17 L379.60,430.03 L380.10,429.88 L380.60,429.74 L381.10,429.59 L381.60,429.45 L382.10,429.30 L382.60,429.16 L383.10,429.02 L383.60,428.89 L384.10,428.76 L384.60,428.64 L385.10,428.52 L385.60,428.41 L386.10,428.30 L386.60,428.20 L387.10,428.11 L387.60,428.02 L388.10,427.94 L388.60,427.86 L389.10,427.78 L389.60,427.70 L390.10,427.62 L390.60,427.54 L391.10,427.46 L391.60,427.38 L392.10,427.29 L392.60,427.20 L393.10,427.10 L393.60,427.00 L394.10,426.89 L394.60,426.77 L395.10,426.64 L395.60,426.51 L396.10,426.36 L396.60,426.20 L397.10,426.03 L397.60,425.85 L398.10,425.65 L398.60,425.44 L399.10,425.21 L399.60,424.96 L400.10,424.70 L400.60,424.42 L401.10,424.13 L401.60,423.82 L402.10,423.50 L402.60,423.17 L403.10,422.82 L403.60,422.46 L404.10,422.09 L404.60,421.71 L405.10,421.31 L405.60,420.90 L406.10,420.49 L406.60,420.06 L407.10,419.63 L407.60,419.18 L408.10,418.73 L408.60,418.27 L409.10,417.80 L409.60,417.33 L410.10,416.85 L410.60,416.36 L411.10,415.87 L411.60,415.37 L412.10,414.87 L412.60,414.36 L413.10,413.85 L413.60,413.33 L414.10,412.80 L414.60,412.26 L415.10,411.71 L415.60,411.14 L416.10,410.56 L416.60,409.97 L417.10,409.35 L417.60,408.72 L418.10,408.06 L418.60,407.39 L419.10,406.68 L419.60,405.96 L420.10,405.20 L420.60,404.41 L421.10,403.60 L421.60,402.75 L422.10,401.86 L422.60,400.95 L423.10,399.99 L423.60,399.00 L424.10,397.96 L424.60,396.88 L425.10,395.76 L425.60,394.60 L426.10,393.39 L426.60,392.13 L427.10,390.83 L427.60,389.48 L428.10,388.09 L428.60,386.65 L429.10,385.17 L429.60,383.65 L430.10,382.08 L430.60,380.47 L431.10,378.82 L431.60,377.13 L432.10,375.39 L432.60,373.61 L433.10,371.80 L433.60,369.94 L434.10,368.04 L434.60,366.10 L435.10,364.12 L435.60,362.10 L436.10,360.04 L436.60,357.95 L437.10,355.81 L437.60,353.64 L438.10,351.43 L438.60,349.18 L439.10,346.90 L439.60,344.58 L440.10,342.22 L440.60,339.83 L441.10,337.41 L441.60,334.96 L442.10,332.48 L442.60,329.96 L443.10,327.42 L443.60,324.85 L444.10,322.25 L444.60,319.63 L445.10,316.98 L445.60,314.31 L446.10,311.62 L446.60,308.91 L447.10,306.17 L447.60,303.42 L448.10,300.65 L448.60,297.86 L449.10,295.05 L449.60,292.23 L450.10,289.40 L450.60,286.55 L451.10,283.69 L451.60,280.82 L452.10,277.94 L452.60,275.05 L453.10,272.16 L453.60,269.26 L454.10,266.36 L454.60,263.46 L455.10,260.56 L455.60,257.67 L456.10,254.78 L456.60,251.90 L457.10,249.04 L457.60,246.19 L458.10,243.35 L458.60,240.54 L459.10,237.74 L459.60,234.97 L460.10,232.22 L460.60,229.49 L461.10,226.80 L461.60,224.14 L462.10,221.51 L462.60,218.92 L463.10,216.37 L463.60,213.86 L464.10,211.39 L464.60,208.96 L465.10,206.59 L465.60,204.26 L466.10,201.98 L466.60,199.76 L467.10,197.60 L467.60,195.50 L468.10,193.46 L468.60,191.49 L469.10,189.58 L469.60,187.75 L470.10,185.99 L470.60,184.31 L471.10,182.71 L471.60,181.20 L472.10,179.76 L472.60,178.42 L473.10,177.17 L473.60,176.01 L474.10,174.95 L474.60,174.00 L475.10,173.14 L475.60,172.39 L476.10,171.74 L476.60,171.21 L477.10,170.79 L477.60,170.49 L478.10,170.31 L478.60,170.25 L479.10,170.31 L479.60,170.49 L480.10,170.78 L480.60,171.18 L481.10,171.68 L481.60,172.28 L482.10,172.97 L482.60,173.74 L483.10,174.59 L483.60,175.51 L484.10,176.50 L484.60,177.56 L485.10,178.67 L485.60,179.84 L486.10,181.05 L486.60,182.30 L487.10,183.58 L487.60,184.90 L488.10,186.24 L488.60,187.60 L489.10,188.97 L489.60,190.35 L490.10,191.73 L490.60,193.11 L491.10,194.48 L491.60,195.83 L492.10,197.17 L492.60,198.48 L493.10,199.77 L493.60,201.04 L494.10,202.29 L494.60,203.52 L495.10,204.72 L495.60,205.90 L496.10,207.06 L496.60,208.19 L497.10,209.31 L497.60,210.40 L498.10,211.46 L498.60,212.50 L499.10,213.52 L499.60,214.52 L500.10,215.49 L500.60,216.44 L501.10,217.36 L501.60,218.26 L502.10,219.13 L502.60,219.98 L503.10,220.81 L503.60,221.61 L504.10,222.39 L504.60,223.14 L505.10,223.86 L505.60,224.57 L506.10,225.24 L506.60,225.89 L507.10,226.52 L507.60,227.13 L508.10,227.72 L508.60,228.28 L509.10,228.82 L509.60,229.35 L510.10,229.85 L510.60,230.34 L511.10,230.81 L511.60,231.26 L512.10,231.69 L512.60,232.11 L513.10,232.52 L513.60,232.91 L514.10,233.29 L514.60,233.65 L515.10,234.00 L515.60,234.34 L516.10,234.67 L516.60,234.99 L517.10,235.30 L517.60,235.60 L518.10,235.89 L518.60,236.18 L519.10,236.46 L519.60,236.73 L520.10,236.99 L520.60,237.25 L521.10,237.50 L521.60,237.74 L522.10,237.98 L522.60,238.21 L523.10,238.43 L523.60,238.65 L524.10,238.86 L524.60,239.06 L525.10,239.26 L525.60,239.45 L526.10,239.63 L526.60,239.81 L527.10,239.98 L527.60,240.15 L528.10,240.31 L528.60,240.46 L529.10,240.61 L529.60,240.75 L530.10,240.89 L530.60,241.02 L531.10,241.14 L531.60,241.26 L532.10,241.37 L532.60,241.48 L533.10,241.59 L533.60,241.68 L534.10,241.78 L534.60,241.87 L535.10,241.95 L535.60,242.03 L536.10,242.11 L536.60,242.19 L537.10,242.26 L537.60,242.33 L538.10,242.40 L538.60,242.47 L539.10,242.53 L539.60,242.59 L540.10,242.66 L540.60,242.72 L541.10,242.78 L541.60,242.84 L542.10,242.90 L542.60,242.96 L543.10,243.03 L543.60,243.09 L544.10,243.15 L544.60,243.22 L545.10,243.29 L545.60,243.36 L546.10,243.43 L546.60,243.50 L547.10,243.58 L547.60,243.65 L548.10,243.73 L548.60,243.81 L549.10,243.89 L549.60,243.97 L550.10,244.05 L550.60,244.13 L551.10,244.21 L551.60,244.29 L552.10,244.37 L552.60,244.45 L553.10,244.53 L553.60,244.60 L554.10,244.68 L554.60,244.76 L555.10,244.83 L555.60,244.91 L556.10,244.98 L556.60,245.05 L557.10,245.12 L557.60,245.19 L558.10,245.25 L558.60,245.32 L559.10,245.38 L559.60,245.44 L560.10,245.49 L560.60,245.55 L561.10,245.60 L561.60,245.65 L562.10,245.70 L562.60,245.75 L563.10,245.80 L563.60,245.85 L564.10,245.89 L564.60,245.94 L565.10,245.98 L565.60,246.02 L566.10,246.06 L566.60,246.11 L567.10,246.15 L567.60,246.19 L568.10,246.23 L568.60,246.27 L569.10,246.31 L569.60,246.35 L570.10,246.39 L570.60,246.44 L571.10,246.48 L571.60,246.52 L572.10,246.57 L572.60,246.61 L573.10,246.65 L573.60,246.70 L574.10,246.74 L574.60,246.79 L575.10,246.83 L575.60,246.88 L576.10,246.92 L576.60,246.97 L577.10,247.01 L577.60,247.05 L578.10,247.09 L578.60,247.13 L579.10,247.17 L579.60,247.21 L580.10,247.25 L580.60,247.28 L581.10,247.32 L581.60,247.35 L582.10,247.38 L582.60,247.41 L583.10,247.43 L583.60,247.46 L584.10,247.48 L584.60,247.50 L585.10,247.52 L585.60,247.53 L586.10,247.55 L586.60,247.56 L587.10,247.57 L587.60,247.58 L588.10,247.59 L588.60,247.60 L589.10,247.62 L589.60,247.63 L590.10,247.65 L590.60,247.67 L591.10,247.69 L591.60,247.72 L592.10,247.74 L592.60,247.78 L593.10,247.82 L593.60,247.86 L594.10,247.91 L594.60,247.96 L595.10,248.02 L595.60,248.09 L596.10,248.17 L596.60,248.25 L597.10,248.34 L597.60,248.44 L598.10,248.55 L598.60,248.67 L599.10,248.79 L599.60,248.93 L600.10,249.06 L600.60,249.21 L601.10,249.35 L601.60,249.50 L602.10,249.65 L602.60,249.80 L603.10,249.95 L603.60,250.09 L604.10,250.24 L604.60,250.37 L605.10,250.51 L605.60,250.63 L606.10,250.75 L606.60,250.86 L607.10,250.96 L607.60,251.05 L608.10,251.12 L608.60,251.18 L609.10,251.23 L609.60,251.26 L610.10,251.28 L610.60,251.27 L611.10,251.25 L611.60,251.21 L612.10,251.15 L612.60,251.09 L613.10,251.01 L613.60,250.94 L614.10,250.86 L614.60,250.80 L615.10,250.75 L615.60,250.71 L616.10,250.70 L616.60,250.71 L617.10,250.76 L617.60,250.84 L618.10,250.96 L618.60,251.13 L619.10,251.35 L619.60,251.62 L620.10,251.96 L620.60,252.35 L621.10,252.82 L621.60,253.36 L622.10,253.98 L622.60,254.69 L623.10,255.48 L623.60,256.37 L624.10,257.35 L624.60,258.44 L625.10,259.62 L625.60,260.91 L626.10,262.29 L626.60,263.75 L627.10,265.30 L627.60,266.92 L628.10,268.61 L628.60,270.37 L629.10,272.19 L629.60,274.06 L630.10,275.97 L630.60,277.93 L631.10,279.93 L631.60,281.96 L632.10,284.01 L632.60,286.08 L633.10,288.17 L633.60,290.27 L634.10,292.37 L634.60,294.47 L635.10,296.57 L635.60,298.65 L636.10,300.71 L636.60,302.75 L637.10,304.75 L637.60,306.73 L638.10,308.66 L638.60,310.55 L639.10,312.41 L639.60,314.24 L640.10,316.03 L640.60,317.79 L641.10,319.52 L641.60,321.22 L642.10,322.91 L642.60,324.57 L643.10,326.21 L643.60,327.84 L644.10,329.45 L644.60,331.05 L645.10,332.64 L645.60,334.23 L646.10,335.80 L646.60,337.38 L647.10,338.95 L647.60,340.53 L648.10,342.11 L648.60,343.69 L649.10,345.29 L649.60,346.89 L650.10,348.51 L650.60,350.15 L651.10,351.80 L651.60,353.47 L652.10,355.15 L652.60,356.85 L653.10,358.56 L653.60,360.28 L654.10,362.01 L654.60,363.74 L655.10,365.48 L655.60,367.21 L656.10,368.95 L656.60,370.68 L657.10,372.41 L657.60,374.12 L658.10,375.83 L658.60,377.53 L659.10,379.21 L659.60,380.87 L660.10,382.52 L660.60,384.14 L661.10,385.74 L661.60,387.31 L662.10,388.86 L662.60,390.38 L663.10,391.86 L663.60,393.31 L664.10,394.72 L664.60,396.10 L665.10,397.43 L665.60,398.73 L666.10,399.99 L666.60,401.21 L667.10,402.39 L667.60,403.54 L668.10,404.65 L668.60,405.73 L669.10,406.76 L669.60,407.77 L670.10,408.74 L670.60,409.67 L671.10,410.57 L671.60,411.44 L672.10,412.27 L672.60,413.08 L673.10,413.84 L673.60,414.58 L674.10,415.29 L674.60,415.96 L675.10,416.61 L675.60,417.22 L676.10,417.80 L676.60,418.36 L677.10,418.88 L677.60,419.38 L678.10,419.85 L678.60,420.29 L679.10,420.71 L679.60,421.10 L680.10,421.47 L680.60,421.82 L681.10,422.15 L681.60,422.46 L682.10,422.75 L682.60,423.03 L683.10,423.29 L683.60,423.53 L684.10,423.76 L684.60,423.98 L685.10,424.20 L685.60,424.40 L686.10,424.59 L686.60,424.78 L687.10,424.96 L687.60,425.14 L688.10,425.32 L688.60,425.49 L689.10,425.67 L689.60,425.84 L690.10,426.02 L690.60,426.20 L691.10,426.39 L691.60,426.58 L692.10,426.78 L692.60,426.97 L693.10,427.18 L693.60,427.38 L694.10,427.59 L694.60,427.79 L695.10,428.00 L695.60,428.20 L696.10,428.41 L696.60,428.61 L697.10,428.81 L697.60,429.01 L698.10,429.21 L698.60,429.40 L699.10,429.58 L699.60,429.76 L700.10,429.94 L700.60,430.10 L701.10,430.26 L701.60,430.41 L702.10,430.55 L702.60,430.69 L703.10,430.81 L703.60,430.92 L704.10,431.02 L704.60,431.11 L705.10,431.19 L705.60,431.25 L706.10,431.31 L706.60,431.36 L707.10,431.40 L707.60,431.43 L708.10,431.46 L708.60,431.47 L709.10,431.49 L709.60,431.50 L710.10,431.50 L710.60,431.50 L711.10,431.50 L711.60,431.49 L712.10,431.49 L712.60,431.48 L713.10,431.47 L713.60,431.47 L714.10,431.46 L714.60,431.46 L715.10,431.46 L715.60,431.46 L716.10,431.47 L716.60,431.48 L717.10,431.49 L717.60,431.52 L718.10,431.54 L718.60,431.58 L719.10,431.62 L719.60,431.67 L720.10,431.72 L720.60,431.77 L721.10,431.84 L721.60,431.90 L722.10,431.97 L722.60,432.05 L723.10,432.13 L723.60,432.22 L724.10,432.30 L724.60,432.40 L725.10,432.50 L725.60,432.60 L726.10,432.70 L726.60,432.81 L727.10,432.92 L727.60,433.03 L728.10,433.15 L728.60,433.27 L729.10,433.39 L729.60,433.51 L730.10,433.64 L730.60,433.77 L731.10,433.90 L731.60,434.03 L732.10,434.16 L732.60,434.30 L733.10,434.43 L733.60,434.57 L734.10,434.70 L734.60,434.84 L735.10,434.98 L735.60,435.11 L736.10,435.24 L736.60,435.38 L737.10,435.51 L737.60,435.64 L738.10,435.77 L738.60,435.89 L739.10,436.01 L739.60,436.14 L740.10,436.25 L740.60,436.37 L741.10,436.48 L741.60,436.58 L742.10,436.69 L742.60,436.79 L743.10,436.88 L743.60,436.97 L744.10,437.05 L744.60,437.13 L745.10,437.20 L745.60,437.27 L746.10,437.34 L746.60,437.40 L747.10,437.45 L747.60,437.50 L748.10,437.55 L748.60,437.60 L749.10,437.64 L749.60,437.68 L750.10,437.71 L750.60,437.74 L751.10,437.77 L751.60,437.80 L752.10,437.83 L752.60,437.85 L753.10,437.87 L753.60,437.89 L754.10,437.91 L754.60,437.93 L755.10,437.94 L755.60,437.96 L756.10,437.97 L756.60,437.99 L757.10,438.00 L757.60,438.02 L758.10,438.03 L758.60,438.04 L759.10,438.06 L759.60,438.07 L760.10,438.09 L760.60,438.10 L761.10,438.11 L761.60,438.13 L762.10,438.14 L762.60,438.15 L763.10,438.17 L763.60,438.18 L764.10,438.19 L764.60,438.20 L765.10,438.21 L765.60,438.22 L766.10,438.23 L766.60,438.24 L767.10,438.25 L767.60,438.26 L768.10,438.27 L768.60,438.28 L769.10,438.29 L769.60,438.29 L770.10,438.30 L770.60,438.30 L771.10,438.31 L771.60,438.31 L772.10,438.31 L772.60,438.32 L773.10,438.32 L773.60,438.32 L774.10,438.32 L774.60,438.32 L775.10,438.32 L775.60,438.32 L776.10,438.32 L776.60,438.32 L777.10,438.32 L777.60,438.32 L778.10,438.32 L778.60,438.32 L779.10,438.32 L779.60,438.31 L780.10,438.31 L780.60,438.31 L781.10,438.31 L781.60,438.31 L782.10,438.31 L782.60,438.30 L783.10,438.30 L783.60,438.30 L784.10,438.30 L784.60,438.30 L785.10,438.30" fill="none" stroke="#ff0000" stroke-width="2.6" stroke-dasharray="3.7 1.7"/>
<circle cx="133.60" cy="438.70" r="5.3" fill="#ff0000"/>
<circle cx="146.87" cy="434.90" r="5.3" fill="#ff0000"/>
<circle cx="160.13" cy="434.50" r="5.3" fill="#ff0000"/>
<circle cx="173.39" cy="432.30" r="5.3" fill="#ff0000"/>
<circle cx="186.66" cy="431.10" r="5.3" fill="#ff0000"/>
<circle cx="199.93" cy="431.30" r="5.3" fill="#ff0000"/>
<circle cx="213.19" cy="432.40" r="5.3" fill="#ff0000"/>
<circle cx="226.45" cy="432.60" r="5.3" fill="#ff0000"/>
<circle cx="239.72" cy="434.90" r="5.3" fill="#ff0000"/>
<circle cx="252.99" cy="436.10" r="5.3" fill="#ff0000"/>
<circle cx="266.25" cy="437.40" r="5.3" fill="#ff0000"/>
<circle cx="279.51" cy="438.70" r="5.3" fill="#ff0000"/>
<circle cx="292.78" cy="440.30" r="5.3" fill="#ff0000"/>
<circle cx="306.04" cy="438.60" r="5.3" fill="#ff0000"/>
<circle cx="319.31" cy="437.30" r="5.3" fill="#ff0000"/>
<circle cx="332.58" cy="436.10" r="5.3" fill="#ff0000"/>
<circle cx="345.84" cy="434.20" r="5.3" fill="#ff0000"/>
<circle cx="359.11" cy="431.80" r="5.3" fill="#ff0000"/>
<circle cx="372.37" cy="431.70" r="5.3" fill="#ff0000"/>
<circle cx="385.63" cy="428.40" r="5.3" fill="#ff0000"/>
<circle cx="398.90" cy="425.30" r="5.3" fill="#ff0000"/>
<circle cx="412.16" cy="414.80" r="5.3" fill="#ff0000"/>
<circle cx="425.43" cy="395.00" r="5.3" fill="#ff0000"/>
<circle cx="438.70" cy="348.75" r="5.3" fill="#ff0000"/>
<circle cx="451.96" cy="278.75" r="5.3" fill="#ff0000"/>
<circle cx="465.23" cy="206.00" r="5.3" fill="#ff0000"/>
<circle cx="478.49" cy="170.25" r="5.3" fill="#ff0000"/>
<circle cx="491.75" cy="196.25" r="5.3" fill="#ff0000"/>
<circle cx="505.02" cy="223.75" r="5.3" fill="#ff0000"/>
<circle cx="518.28" cy="236.00" r="5.3" fill="#ff0000"/>
<circle cx="531.55" cy="241.25" r="5.3" fill="#ff0000"/>
<circle cx="544.82" cy="243.25" r="5.3" fill="#ff0000"/>
<circle cx="558.08" cy="245.25" r="5.3" fill="#ff0000"/>
<circle cx="571.35" cy="246.50" r="5.3" fill="#ff0000"/>
<circle cx="584.61" cy="247.50" r="5.3" fill="#ff0000"/>
<circle cx="597.88" cy="248.50" r="5.3" fill="#ff0000"/>
<circle cx="611.14" cy="251.25" r="5.3" fill="#ff0000"/>
<circle cx="624.40" cy="258.00" r="5.3" fill="#ff0000"/>
<circle cx="637.67" cy="307.00" r="5.3" fill="#ff0000"/>
<circle cx="650.94" cy="351.25" r="5.3" fill="#ff0000"/>
<circle cx="664.20" cy="395.00" r="5.3" fill="#ff0000"/>
<circle cx="677.47" cy="419.25" r="5.3" fill="#ff0000"/>
<circle cx="690.73" cy="426.25" r="5.3" fill="#ff0000"/>
<circle cx="704.00" cy="431.00" r="5.3" fill="#ff0000"/>
<circle cx="717.26" cy="431.50" r="5.3" fill="#ff0000"/>
<circle cx="730.53" cy="433.75" r="5.3" fill="#ff0000"/>
<circle cx="743.79" cy="437.00" r="5.3" fill="#ff0000"/>
<circle cx="757.06" cy="438.00" r="5.3" fill="#ff0000"/>
<circle cx="770.32" cy="438.30" r="5.3" fill="#ff0000"/>
<circle cx="783.59" cy="438.30" r="5.3" fill="#ff0000"/>
<path d="M131.60,292.31 L132.10,293.90 L132.60,295.57 L133.10,297.34 L133.60,299.20 L134.10,301.16 L134.60,303.22 L135.10,305.36 L135.60,307.58 L136.10,309.87 L136.60,312.23 L137.10,314.64 L137.60,317.11 L138.10,319.62 L138.60,322.17 L139.10,324.75 L139.60,327.36 L140.10,329.98 L140.60,332.61 L141.10,335.24 L141.60,337.87 L142.10,340.48 L142.60,343.08 L143.10,345.65 L143.60,348.19 L144.10,350.69 L144.60,353.15 L145.10,355.55 L145.60,357.89 L146.10,360.17 L146.60,362.37 L147.10,364.49 L147.60,366.52 L148.10,368.48 L148.60,370.35 L149.10,372.16 L149.60,373.89 L150.10,375.55 L150.60,377.15 L151.10,378.68 L151.60,380.16 L152.10,381.58 L152.60,382.94 L153.10,384.25 L153.60,385.52 L154.10,386.74 L154.60,387.92 L155.10,389.05 L155.60,390.16 L156.10,391.23 L156.60,392.27 L157.10,393.28 L157.60,394.27 L158.10,395.23 L158.60,396.18 L159.10,397.11 L159.60,398.03 L160.10,398.95 L160.60,399.85 L161.10,400.75 L161.60,401.64 L162.10,402.52 L162.60,403.39 L163.10,404.25 L163.60,405.11 L164.10,405.95 L164.60,406.78 L165.10,407.60 L165.60,408.41 L166.10,409.20 L166.60,409.98 L167.10,410.75 L167.60,411.50 L168.10,412.23 L168.60,412.95 L169.10,413.65 L169.60,414.34 L170.10,415.00 L170.60,415.65 L171.10,416.28 L171.60,416.89 L172.10,417.48 L172.60,418.04 L173.10,418.59 L173.60,419.11 L174.10,419.61 L174.60,420.09 L175.10,420.55 L175.60,420.99 L176.10,421.40 L176.60,421.80 L177.10,422.19 L177.60,422.55 L178.10,422.90 L178.60,423.23 L179.10,423.55 L179.60,423.86 L180.10,424.15 L180.60,424.43 L181.10,424.69 L181.60,424.95 L182.10,425.19 L182.60,425.43 L183.10,425.66 L183.60,425.88 L184.10,426.09 L184.60,426.30 L185.10,426.50 L185.60,426.70 L186.10,426.89 L186.60,427.08 L187.10,427.26 L187.60,427.45 L188.10,427.63 L188.60,427.81 L189.10,427.98 L189.60,428.15 L190.10,428.32 L190.60,428.48 L191.10,428.64 L191.60,428.79 L192.10,428.94 L192.60,429.08 L193.10,429.21 L193.60,429.34 L194.10,429.46 L194.60,429.58 L195.10,429.69 L195.60,429.79 L196.10,429.88 L196.60,429.96 L197.10,430.04 L197.60,430.11 L198.10,430.17 L198.60,430.22 L199.10,430.26 L199.60,430.29 L200.10,430.31 L200.60,430.32 L201.10,430.31 L201.60,430.30 L202.10,430.29 L202.60,430.26 L203.10,430.22 L203.60,430.18 L204.10,430.13 L204.60,430.07 L205.10,430.01 L205.60,429.93 L206.10,429.86 L206.60,429.78 L207.10,429.69 L207.60,429.60 L208.10,429.50 L208.60,429.41 L209.10,429.30 L209.60,429.20 L210.10,429.09 L210.60,428.98 L211.10,428.87 L211.60,428.76 L212.10,428.65 L212.60,428.53 L213.10,428.42 L213.60,428.31 L214.10,428.20 L214.60,428.08 L215.10,427.97 L215.60,427.86 L216.10,427.76 L216.60,427.65 L217.10,427.54 L217.60,427.43 L218.10,427.33 L218.60,427.23 L219.10,427.12 L219.60,427.02 L220.10,426.92 L220.60,426.82 L221.10,426.73 L221.60,426.63 L222.10,426.54 L222.60,426.45 L223.10,426.36 L223.60,426.27 L224.10,426.18 L224.60,426.10 L225.10,426.01 L225.60,425.93 L226.10,425.85 L226.60,425.78 L227.10,425.70 L227.60,425.63 L228.10,425.56 L228.60,425.49 L229.10,425.41 L229.60,425.34 L230.10,425.27 L230.60,425.19 L231.10,425.11 L231.60,425.03 L232.10,424.94 L232.60,424.85 L233.10,424.76 L233.60,424.66 L234.10,424.55 L234.60,424.44 L235.10,424.32 L235.60,424.19 L236.10,424.05 L236.60,423.90 L237.10,423.75 L237.60,423.58 L238.10,423.40 L238.60,423.22 L239.10,423.02 L239.60,422.80 L240.10,422.58 L240.60,422.34 L241.10,422.08 L241.60,421.82 L242.10,421.53 L242.60,421.23 L243.10,420.92 L243.60,420.58 L244.10,420.23 L244.60,419.86 L245.10,419.48 L245.60,419.07 L246.10,418.65 L246.60,418.20 L247.10,417.73 L247.60,417.25 L248.10,416.74 L248.60,416.20 L249.10,415.65 L249.60,415.07 L250.10,414.47 L250.60,413.84 L251.10,413.19 L251.60,412.51 L252.10,411.81 L252.60,411.08 L253.10,410.32 L253.60,409.54 L254.10,408.72 L254.60,407.88 L255.10,407.01 L255.60,406.10 L256.10,405.17 L256.60,404.20 L257.10,403.20 L257.60,402.16 L258.10,401.09 L258.60,399.98 L259.10,398.84 L259.60,397.66 L260.10,396.44 L260.60,395.18 L261.10,393.88 L261.60,392.54 L262.10,391.16 L262.60,389.74 L263.10,388.27 L263.60,386.76 L264.10,385.21 L264.60,383.61 L265.10,381.96 L265.60,380.27 L266.10,378.53 L266.60,376.74 L267.10,374.90 L267.60,373.02 L268.10,371.08 L268.60,369.10 L269.10,367.07 L269.60,364.99 L270.10,362.86 L270.60,360.68 L271.10,358.45 L271.60,356.18 L272.10,353.85 L272.60,351.48 L273.10,349.06 L273.60,346.59 L274.10,344.08 L274.60,341.51 L275.10,338.90 L275.60,336.24 L276.10,333.53 L276.60,330.77 L277.10,327.97 L277.60,325.12 L278.10,322.22 L278.60,319.27 L279.10,316.27 L279.60,313.23 L280.10,310.14 L280.60,307.01 L281.10,303.83 L281.60,300.62 L282.10,297.38 L282.60,294.10 L283.10,290.80 L283.60,287.47 L284.10,284.13 L284.60,280.76 L285.10,277.39 L285.60,274.00 L286.10,270.61 L286.60,267.21 L287.10,263.81 L287.60,260.42 L288.10,257.03 L288.60,253.65 L289.10,250.29 L289.60,246.94 L290.10,243.61 L290.60,240.31 L291.10,237.03 L291.60,233.78 L292.10,230.56 L292.60,227.38 L293.10,224.25 L293.60,221.15 L294.10,218.11 L294.60,215.12 L295.10,212.20 L295.60,209.34 L296.10,206.56 L296.60,203.85 L297.10,201.24 L297.60,198.71 L298.10,196.28 L298.60,193.95 L299.10,191.73 L299.60,189.62 L300.10,187.64 L300.60,185.78 L301.10,184.05 L301.60,182.46 L302.10,181.01 L302.60,179.71 L303.10,178.56 L303.60,177.57 L304.10,176.75 L304.60,176.11 L305.10,175.63 L305.60,175.35 L306.10,175.25 L306.60,175.34 L307.10,175.62 L307.60,176.07 L308.10,176.69 L308.60,177.46 L309.10,178.38 L309.60,179.44 L310.10,180.62 L310.60,181.93 L311.10,183.34 L311.60,184.86 L312.10,186.47 L312.60,188.16 L313.10,189.92 L313.60,191.75 L314.10,193.64 L314.60,195.56 L315.10,197.53 L315.60,199.52 L316.10,201.53 L316.60,203.55 L317.10,205.57 L317.60,207.58 L318.10,209.57 L318.60,211.53 L319.10,213.46 L319.60,215.33 L320.10,217.16 L320.60,218.94 L321.10,220.67 L321.60,222.36 L322.10,224.00 L322.60,225.59 L323.10,227.14 L323.60,228.65 L324.10,230.11 L324.60,231.54 L325.10,232.92 L325.60,234.27 L326.10,235.57 L326.60,236.84 L327.10,238.08 L327.60,239.28 L328.10,240.44 L328.60,241.57 L329.10,242.67 L329.60,243.74 L330.10,244.78 L330.60,245.78 L331.10,246.76 L331.60,247.72 L332.10,248.64 L332.60,249.54 L333.10,250.42 L333.60,251.27 L334.10,252.10 L334.60,252.91 L335.10,253.69 L335.60,254.45 L336.10,255.19 L336.60,255.91 L337.10,256.60 L337.60,257.28 L338.10,257.93 L338.60,258.57 L339.10,259.18 L339.60,259.78 L340.10,260.35 L340.60,260.91 L341.10,261.45 L341.60,261.98 L342.10,262.48 L342.60,262.97 L343.10,263.44 L343.60,263.90 L344.10,264.34 L344.60,264.76 L345.10,265.17 L345.60,265.57 L346.10,265.95 L346.60,266.31 L347.10,266.67 L347.60,267.01 L348.10,267.34 L348.60,267.66 L349.10,267.96 L349.60,268.26 L350.10,268.54 L350.60,268.82 L351.10,269.08 L351.60,269.34 L352.10,269.59 L352.60,269.83 L353.10,270.07 L353.60,270.29 L354.10,270.52 L354.60,270.73 L355.10,270.94 L355.60,271.15 L356.10,271.35 L356.60,271.55 L357.10,271.74 L357.60,271.93 L358.10,272.12 L358.60,272.31 L359.10,272.50 L359.60,272.68 L360.10,272.87 L360.60,273.05 L361.10,273.24 L361.60,273.42 L362.10,273.60 L362.60,273.78 L363.10,273.95 L363.60,274.13 L364.10,274.30 L364.60,274.47 L365.10,274.64 L365.60,274.81 L366.10,274.97 L366.60,275.13 L367.10,275.29 L367.60,275.44 L368.10,275.60 L368.60,275.74 L369.10,275.89 L369.60,276.03 L370.10,276.17 L370.60,276.31 L371.10,276.44 L371.60,276.56 L372.10,276.69 L372.60,276.80 L373.10,276.92 L373.60,277.03 L374.10,277.13 L374.60,277.23 L375.10,277.33 L375.60,277.43 L376.10,277.52 L376.60,277.60 L377.10,277.69 L377.60,277.77 L378.10,277.85 L378.60,277.92 L379.10,277.99 L379.60,278.06 L380.10,278.13 L380.60,278.20 L381.10,278.26 L381.60,278.32 L382.10,278.38 L382.60,278.44 L383.10,278.49 L383.60,278.54 L384.10,278.60 L384.60,278.65 L385.10,278.70 L385.60,278.75 L386.10,278.79 L386.60,278.84 L387.10,278.89 L387.60,278.93 L388.10,278.98 L388.60,279.03 L389.10,279.07 L389.60,279.11 L390.10,279.16 L390.60,279.20 L391.10,279.25 L391.60,279.29 L392.10,279.34 L392.60,279.38 L393.10,279.43 L393.60,279.47 L394.10,279.52 L394.60,279.56 L395.10,279.61 L395.60,279.66 L396.10,279.71 L396.60,279.76 L397.10,279.81 L397.60,279.86 L398.10,279.91 L398.60,279.97 L399.10,280.02 L399.60,280.08 L400.10,280.14 L400.60,280.20 L401.10,280.26 L401.60,280.32 L402.10,280.38 L402.60,280.44 L403.10,280.50 L403.60,280.57 L404.10,280.63 L404.60,280.69 L405.10,280.75 L405.60,280.81 L406.10,280.87 L406.60,280.93 L407.10,280.99 L407.60,281.05 L408.10,281.11 L408.60,281.16 L409.10,281.22 L409.60,281.27 L410.10,281.32 L410.60,281.37 L411.10,281.41 L411.60,281.45 L412.10,281.49 L412.60,281.53 L413.10,281.57 L413.60,281.60 L414.10,281.63 L414.60,281.66 L415.10,281.69 L415.60,281.72 L416.10,281.74 L416.60,281.77 L417.10,281.79 L417.60,281.81 L418.10,281.84 L418.60,281.86 L419.10,281.88 L419.60,281.90 L420.10,281.92 L420.60,281.95 L421.10,281.97 L421.60,282.00 L422.10,282.02 L422.60,282.05 L423.10,282.08 L423.60,282.11 L424.10,282.15 L424.60,282.18 L425.10,282.22 L425.60,282.26 L426.10,282.31 L426.60,282.36 L427.10,282.40 L427.60,282.46 L428.10,282.51 L428.60,282.56 L429.10,282.62 L429.60,282.68 L430.10,282.74 L430.60,282.80 L431.10,282.86 L431.60,282.92 L432.10,282.98 L432.60,283.05 L433.10,283.11 L433.60,283.17 L434.10,283.23 L434.60,283.30 L435.10,283.36 L435.60,283.42 L436.10,283.47 L436.60,283.53 L437.10,283.59 L437.60,283.64 L438.10,283.69 L438.60,283.74 L439.10,283.79 L439.60,283.83 L440.10,283.88 L440.60,283.92 L441.10,283.97 L441.60,284.01 L442.10,284.06 L442.60,284.12 L443.10,284.17 L443.60,284.23 L444.10,284.30 L444.60,284.37 L445.10,284.46 L445.60,284.55 L446.10,284.64 L446.60,284.75 L447.10,284.87 L447.60,285.00 L448.10,285.14 L448.60,285.30 L449.10,285.47 L449.60,285.65 L450.10,285.85 L450.60,286.07 L451.10,286.30 L451.60,286.56 L452.10,286.83 L452.60,287.12 L453.10,287.43 L453.60,287.76 L454.10,288.12 L454.60,288.50 L455.10,288.91 L455.60,289.34 L456.10,289.80 L456.60,290.29 L457.10,290.81 L457.60,291.36 L458.10,291.94 L458.60,292.55 L459.10,293.19 L459.60,293.87 L460.10,294.59 L460.60,295.34 L461.10,296.14 L461.60,296.97 L462.10,297.84 L462.60,298.75 L463.10,299.70 L463.60,300.70 L464.10,301.74 L464.60,302.83 L465.10,303.96 L465.60,305.14 L466.10,306.37 L466.60,307.64 L467.10,308.95 L467.60,310.30 L468.10,311.69 L468.60,313.12 L469.10,314.58 L469.60,316.07 L470.10,317.59 L470.60,319.14 L471.10,320.71 L471.60,322.30 L472.10,323.92 L472.60,325.55 L473.10,327.21 L473.60,328.87 L474.10,330.55 L474.60,332.24 L475.10,333.94 L475.60,335.64 L476.10,337.35 L476.60,339.06 L477.10,340.77 L477.60,342.47 L478.10,344.18 L478.60,345.87 L479.10,347.56 L479.60,349.24 L480.10,350.91 L480.60,352.57 L481.10,354.22 L481.60,355.86 L482.10,357.49 L482.60,359.11 L483.10,360.71 L483.60,362.31 L484.10,363.89 L484.60,365.46 L485.10,367.02 L485.60,368.56 L486.10,370.09 L486.60,371.60 L487.10,373.10 L487.60,374.58 L488.10,376.05 L488.60,377.50 L489.10,378.93 L489.60,380.35 L490.10,381.75 L490.60,383.13 L491.10,384.49 L491.60,385.84 L492.10,387.16 L492.60,388.47 L493.10,389.75 L493.60,391.02 L494.10,392.26 L494.60,393.49 L495.10,394.69 L495.60,395.87 L496.10,397.03 L496.60,398.17 L497.10,399.29 L497.60,400.38 L498.10,401.45 L498.60,402.50 L499.10,403.52 L499.60,404.52 L500.10,405.50 L500.60,406.45 L501.10,407.38 L501.60,408.28 L502.10,409.15 L502.60,410.00 L503.10,410.83 L503.60,411.63 L504.10,412.40 L504.60,413.14 L505.10,413.86 L505.60,414.55 L506.10,415.22 L506.60,415.86 L507.10,416.47 L507.60,417.06 L508.10,417.63 L508.60,418.17 L509.10,418.70 L509.60,419.20 L510.10,419.68 L510.60,420.15 L511.10,420.59 L511.60,421.02 L512.10,421.44 L512.60,421.83 L513.10,422.21 L513.60,422.58 L514.10,422.94 L514.60,423.28 L515.10,423.61 L515.60,423.93 L516.10,424.24 L516.60,424.54 L517.10,424.83 L517.60,425.12 L518.10,425.40 L518.60,425.67 L519.10,425.94 L519.60,426.20 L520.10,426.46 L520.60,426.71 L521.10,426.96 L521.60,427.20 L522.10,427.43 L522.60,427.66 L523.10,427.88 L523.60,428.10 L524.10,428.31 L524.60,428.52 L525.10,428.72 L525.60,428.91 L526.10,429.10 L526.60,429.28 L527.10,429.46 L527.60,429.63 L528.10,429.79 L528.60,429.95 L529.10,430.10 L529.60,430.24 L530.10,430.38 L530.60,430.52 L531.10,430.64 L531.60,430.76 L532.10,430.88 L532.60,430.98 L533.10,431.08 L533.60,431.18 L534.10,431.27 L534.60,431.36 L535.10,431.44 L535.60,431.51 L536.10,431.59 L536.60,431.66 L537.10,431.72 L537.60,431.78 L538.10,431.84 L538.60,431.90 L539.10,431.95 L539.60,432.01 L540.10,432.06 L540.60,432.10 L541.10,432.15 L541.60,432.20 L542.10,432.25 L542.60,432.29 L543.10,432.34 L543.60,432.38 L544.10,432.43 L544.60,432.48 L545.10,432.53 L545.60,432.58 L546.10,432.63 L546.60,432.68 L547.10,432.74 L547.60,432.79 L548.10,432.84 L548.60,432.90 L549.10,432.96 L549.60,433.01 L550.10,433.07 L550.60,433.13 L551.10,433.19 L551.60,433.25 L552.10,433.31 L552.60,433.37 L553.10,433.42 L553.60,433.48 L554.10,433.54 L554.60,433.60 L555.10,433.66 L555.60,433.72 L556.10,433.78 L556.60,433.83 L557.10,433.89 L557.60,433.95 L558.10,434.00 L558.60,434.06 L559.10,434.11 L559.60,434.16 L560.10,434.22 L560.60,434.27 L561.10,434.32 L561.60,434.37 L562.10,434.42 L562.60,434.47 L563.10,434.52 L563.60,434.57 L564.10,434.62 L564.60,434.66 L565.10,434.71 L565.60,434.76 L566.10,434.81 L566.60,434.85 L567.10,434.90 L567.60,434.95 L568.10,434.99 L568.60,435.04 L569.10,435.09 L569.60,435.14 L570.10,435.18 L570.60,435.23 L571.10,435.28 L571.60,435.32 L572.10,435.37 L572.60,435.42 L573.10,435.47 L573.60,435.52 L574.10,435.57 L574.60,435.61 L575.10,435.66 L575.60,435.71 L576.10,435.76 L576.60,435.81 L577.10,435.86 L577.60,435.91 L578.10,435.96 L578.60,436.01 L579.10,436.06 L579.60,436.11 L580.10,436.16 L580.60,436.21 L581.10,436.25 L581.60,436.30 L582.10,436.35 L582.60,436.40 L583.10,436.45 L583.60,436.50 L584.10,436.55 L584.60,436.60 L585.10,436.65 L585.60,436.70 L586.10,436.74 L586.60,436.79 L587.10,436.84 L587.60,436.89 L588.10,436.94 L588.60,436.99 L589.10,437.03 L589.60,437.08 L590.10,437.13 L590.60,437.18 L591.10,437.23 L591.60,437.28 L592.10,437.32 L592.60,437.37 L593.10,437.42 L593.60,437.47 L594.10,437.52 L594.60,437.57 L595.10,437.62 L595.60,437.67 L596.10,437.72 L596.60,437.77 L597.10,437.82 L597.60,437.87 L598.10,437.92 L598.60,437.97 L599.10,438.03 L599.60,438.08 L600.10,438.13 L600.60,438.18 L601.10,438.24 L601.60,438.29 L602.10,438.34 L602.60,438.39 L603.10,438.44 L603.60,438.49 L604.10,438.54 L604.60,438.59 L605.10,438.63 L605.60,438.68 L606.10,438.73 L606.60,438.77 L607.10,438.81 L607.60,438.85 L608.10,438.89 L608.60,438.93 L609.10,438.97 L609.60,439.00 L610.10,439.04 L610.60,439.07 L611.10,439.10 L611.60,439.12 L612.10,439.15 L612.60,439.17 L613.10,439.19 L613.60,439.21 L614.10,439.23 L614.60,439.24 L615.10,439.26 L615.60,439.27 L616.10,439.27 L616.60,439.28 L617.10,439.28 L617.60,439.29 L618.10,439.29 L618.60,439.28 L619.10,439.28 L619.60,439.27 L620.10,439.26 L620.60,439.25 L621.10,439.24 L621.60,439.22 L622.10,439.21 L622.60,439.19 L623.10,439.17 L623.60,439.14 L624.10,439.12 L624.60,439.09 L625.10,439.06 L625.60,439.03 L626.10,438.99 L626.60,438.96 L627.10,438.92 L627.60,438.88 L628.10,438.84 L628.60,438.80 L629.10,438.75 L629.60,438.71 L630.10,438.66 L630.60,438.62 L631.10,438.57 L631.60,438.52 L632.10,438.47 L632.60,438.42 L633.10,438.37 L633.60,438.32 L634.10,438.27 L634.60,438.22 L635.10,438.17 L635.60,438.11 L636.10,438.06 L636.60,438.01 L637.10,437.96 L637.60,437.91 L638.10,437.86 L638.60,437.81 L639.10,437.76 L639.60,437.71 L640.10,437.66 L640.60,437.61 L641.10,437.56 L641.60,437.51 L642.10,437.46 L642.60,437.41 L643.10,437.36 L643.60,437.32 L644.10,437.27 L644.60,437.22 L645.10,437.17 L645.60,437.12 L646.10,437.08 L646.60,437.03 L647.10,436.98 L647.60,436.93 L648.10,436.88 L648.60,436.83 L649.10,436.78 L649.60,436.73 L650.10,436.68 L650.60,436.63 L651.10,436.58 L651.60,436.53 L652.10,436.48 L652.60,436.43 L653.10,436.38 L653.60,436.32 L654.10,436.27 L654.60,436.22 L655.10,436.16 L655.60,436.11 L656.10,436.05 L656.60,435.99 L657.10,435.94 L657.60,435.88 L658.10,435.82 L658.60,435.76 L659.10,435.70 L659.60,435.63 L660.10,435.57 L660.60,435.50 L661.10,435.44 L661.60,435.37 L662.10,435.30 L662.60,435.23 L663.10,435.16 L663.60,435.09 L664.10,435.01 L664.60,434.94 L665.10,434.86 L665.60,434.79 L666.10,434.71 L666.60,434.63 L667.10,434.55 L667.60,434.47 L668.10,434.38 L668.60,434.30 L669.10,434.22 L669.60,434.14 L670.10,434.06 L670.60,433.98 L671.10,433.90 L671.60,433.82 L672.10,433.74 L672.60,433.66 L673.10,433.59 L673.60,433.51 L674.10,433.44 L674.60,433.37 L675.10,433.30 L675.60,433.23 L676.10,433.17 L676.60,433.10 L677.10,433.04 L677.60,432.98 L678.10,432.93 L678.60,432.88 L679.10,432.83 L679.60,432.78 L680.10,432.73 L680.60,432.69 L681.10,432.65 L681.60,432.61 L682.10,432.57 L682.60,432.53 L683.10,432.50 L683.60,432.46 L684.10,432.43 L684.60,432.40 L685.10,432.36 L685.60,432.33 L686.10,432.30 L686.60,432.27 L687.10,432.24 L687.60,432.21 L688.10,432.18 L688.60,432.14 L689.10,432.11 L689.60,432.08 L690.10,432.04 L690.60,432.01 L691.10,431.97 L691.60,431.94 L692.10,431.90 L692.60,431.86 L693.10,431.82 L693.60,431.78 L694.10,431.74 L694.60,431.70 L695.10,431.66 L695.60,431.62 L696.10,431.59 L696.60,431.55 L697.10,431.51 L697.60,431.48 L698.10,431.45 L698.60,431.42 L699.10,431.39 L699.60,431.36 L700.10,431.34 L700.60,431.32 L701.10,431.30 L701.60,431.28 L702.10,431.27 L702.60,431.26 L703.10,431.25 L703.60,431.25 L704.10,431.25 L704.60,431.26 L705.10,431.27 L705.60,431.28 L706.10,431.29 L706.60,431.31 L707.10,431.32 L707.60,431.34 L708.10,431.36 L708.60,431.38 L709.10,431.39 L709.60,431.41 L710.10,431.42 L710.60,431.43 L711.10,431.43 L711.60,431.43 L712.10,431.43 L712.60,431.42 L713.10,431.41 L713.60,431.39 L714.10,431.36 L714.60,431.33 L715.10,431.29 L715.60,431.24 L716.10,431.18 L716.60,431.11 L717.10,431.03 L717.60,430.94 L718.10,430.84 L718.60,430.73 L719.10,430.60 L719.60,430.48 L720.10,430.34 L720.60,430.19 L721.10,430.03 L721.60,429.87 L722.10,429.70 L722.60,429.53 L723.10,429.35 L723.60,429.16 L724.10,428.97 L724.60,428.77 L725.10,428.57 L725.60,428.36 L726.10,428.16 L726.60,427.94 L727.10,427.73 L727.60,427.52 L728.10,427.30 L728.60,427.08 L729.10,426.87 L729.60,426.65 L730.10,426.43 L730.60,426.22 L731.10,426.00 L731.60,425.79 L732.10,425.58 L732.60,425.36 L733.10,425.15 L733.60,424.93 L734.10,424.72 L734.60,424.50 L735.10,424.28 L735.60,424.05 L736.10,423.82 L736.60,423.59 L737.10,423.35 L737.60,423.11 L738.10,422.86 L738.60,422.61 L739.10,422.35 L739.60,422.08 L740.10,421.81 L740.60,421.52 L741.10,421.23 L741.60,420.93 L742.10,420.62 L742.60,420.30 L743.10,419.97 L743.60,419.63 L744.10,419.28 L744.60,418.92 L745.10,418.54 L745.60,418.15 L746.10,417.74 L746.60,417.32 L747.10,416.88 L747.60,416.43 L748.10,415.96 L748.60,415.47 L749.10,414.96 L749.60,414.44 L750.10,413.89 L750.60,413.32 L751.10,412.73 L751.60,412.12 L752.10,411.48 L752.60,410.82 L753.10,410.14 L753.60,409.43 L754.10,408.69 L754.60,407.92 L755.10,407.13 L755.60,406.31 L756.10,405.46 L756.60,404.58 L757.10,403.67 L757.60,402.72 L758.10,401.75 L758.60,400.75 L759.10,399.72 L759.60,398.66 L760.10,397.57 L760.60,396.46 L761.10,395.33 L761.60,394.17 L762.10,392.99 L762.60,391.78 L763.10,390.56 L763.60,389.32 L764.10,388.06 L764.60,386.78 L765.10,385.49 L765.60,384.18 L766.10,382.85 L766.60,381.52 L767.10,380.17 L767.60,378.81 L768.10,377.44 L768.60,376.06 L769.10,374.67 L769.60,373.27 L770.10,371.87 L770.60,370.46 L771.10,369.05 L771.60,367.63 L772.10,366.20 L772.60,364.76 L773.10,363.31 L773.60,361.85 L774.10,360.37 L774.60,358.87 L775.10,357.36 L775.60,355.83 L776.10,354.27 L776.60,352.70 L777.10,351.10 L777.60,349.47 L778.10,347.82 L778.60,346.14 L779.10,344.43 L779.60,342.69 L780.10,340.91 L780.60,339.10 L781.10,337.26 L781.60,335.38 L782.10,333.45 L782.60,331.49 L783.10,329.49 L783.60,327.44 L784.10,325.34 L784.60,323.21 L785.10,321.03" fill="none" stroke="#ff0000" stroke-width="2.6" stroke-dasharray="3.7 1.7"/>
<circle cx="133.60" cy="299.20" r="5.3" fill="#ff0000"/>
<circle cx="146.87" cy="363.50" r="5.3" fill="#ff0000"/>
<circle cx="160.13" cy="399.00" r="5.3" fill="#ff0000"/>
<circle cx="173.39" cy="418.90" r="5.3" fill="#ff0000"/>
<circle cx="186.66" cy="427.10" r="5.3" fill="#ff0000"/>
<circle cx="199.93" cy="430.30" r="5.3" fill="#ff0000"/>
<circle cx="213.19" cy="428.40" r="5.3" fill="#ff0000"/>
<circle cx="226.45" cy="425.80" r="5.3" fill="#ff0000"/>
<circle cx="239.72" cy="422.75" r="5.3" fill="#ff0000"/>
<circle cx="252.99" cy="410.50" r="5.3" fill="#ff0000"/>
<circle cx="266.25" cy="378.00" r="5.3" fill="#ff0000"/>
<circle cx="279.51" cy="313.75" r="5.3" fill="#ff0000"/>
<circle cx="292.78" cy="226.25" r="5.3" fill="#ff0000"/>
<circle cx="306.04" cy="175.25" r="5.3" fill="#ff0000"/>
<circle cx="319.31" cy="214.25" r="5.3" fill="#ff0000"/>
<circle cx="332.58" cy="249.50" r="5.3" fill="#ff0000"/>
<circle cx="345.84" cy="265.75" r="5.3" fill="#ff0000"/>
<circle cx="359.11" cy="272.50" r="5.3" fill="#ff0000"/>
<circle cx="372.37" cy="276.75" r="5.3" fill="#ff0000"/>
<circle cx="385.63" cy="278.75" r="5.3" fill="#ff0000"/>
<circle cx="398.90" cy="280.00" r="5.3" fill="#ff0000"/>
<circle cx="412.16" cy="281.50" r="5.3" fill="#ff0000"/>
<circle cx="425.43" cy="282.25" r="5.3" fill="#ff0000"/>
<circle cx="438.70" cy="283.75" r="5.3" fill="#ff0000"/>
<circle cx="451.96" cy="286.75" r="5.3" fill="#ff0000"/>
<circle cx="465.23" cy="304.25" r="5.3" fill="#ff0000"/>
<circle cx="478.49" cy="345.50" r="5.3" fill="#ff0000"/>
<circle cx="491.75" cy="386.25" r="5.3" fill="#ff0000"/>
<circle cx="505.02" cy="413.75" r="5.3" fill="#ff0000"/>
<circle cx="518.28" cy="425.50" r="5.3" fill="#ff0000"/>
<circle cx="531.55" cy="430.75" r="5.3" fill="#ff0000"/>
<circle cx="544.82" cy="432.50" r="5.3" fill="#ff0000"/>
<circle cx="558.08" cy="434.00" r="5.3" fill="#ff0000"/>
<circle cx="571.35" cy="435.30" r="5.3" fill="#ff0000"/>
<circle cx="584.61" cy="436.60" r="5.3" fill="#ff0000"/>
<circle cx="597.88" cy="437.90" r="5.3" fill="#ff0000"/>
<circle cx="611.14" cy="439.10" r="5.3" fill="#ff0000"/>
<circle cx="624.40" cy="439.10" r="5.3" fill="#ff0000"/>
<circle cx="637.67" cy="437.90" r="5.3" fill="#ff0000"/>
<circle cx="650.94" cy="436.60" r="5.3" fill="#ff0000"/>
<circle cx="664.20" cy="435.00" r="5.3" fill="#ff0000"/>
<circle cx="677.47" cy="433.00" r="5.3" fill="#ff0000"/>
<circle cx="690.73" cy="432.00" r="5.3" fill="#ff0000"/>
<circle cx="704.00" cy="431.25" r="5.3" fill="#ff0000"/>
<circle cx="717.26" cy="431.00" r="5.3" fill="#ff0000"/>
<circle cx="730.53" cy="426.25" r="5.3" fill="#ff0000"/>
<circle cx="743.79" cy="419.50" r="5.3" fill="#ff0000"/>
<circle cx="757.06" cy="403.75" r="5.3" fill="#ff0000"/>
<circle cx="770.32" cy="371.25" r="5.3" fill="#ff0000"/>
<circle cx="783.59" cy="327.50" r="5.3" fill="#ff0000"/>
<path d="M131.60,263.50 L132.10,258.33 L132.60,253.39 L133.10,248.70 L133.60,244.25 L134.10,240.06 L134.60,236.13 L135.10,232.45 L135.60,229.01 L136.10,225.81 L136.60,222.85 L137.10,220.12 L137.60,217.60 L138.10,215.31 L138.60,213.23 L139.10,211.36 L139.60,209.69 L140.10,208.22 L140.60,206.94 L141.10,205.85 L141.60,204.94 L142.10,204.20 L142.60,203.64 L143.10,203.24 L143.60,203.00 L144.10,202.91 L144.60,202.98 L145.10,203.19 L145.60,203.54 L146.10,204.02 L146.60,204.63 L147.10,205.36 L147.60,206.21 L148.10,207.17 L148.60,208.23 L149.10,209.39 L149.60,210.63 L150.10,211.96 L150.60,213.36 L151.10,214.83 L151.60,216.37 L152.10,217.95 L152.60,219.58 L153.10,221.25 L153.60,222.96 L154.10,224.69 L154.60,226.44 L155.10,228.20 L155.60,229.97 L156.10,231.73 L156.60,233.48 L157.10,235.22 L157.60,236.93 L158.10,238.62 L158.60,240.27 L159.10,241.87 L159.60,243.42 L160.10,244.91 L160.60,246.34 L161.10,247.71 L161.60,249.01 L162.10,250.25 L162.60,251.44 L163.10,252.57 L163.60,253.65 L164.10,254.67 L164.60,255.65 L165.10,256.58 L165.60,257.47 L166.10,258.31 L166.60,259.11 L167.10,259.87 L167.60,260.59 L168.10,261.29 L168.60,261.94 L169.10,262.57 L169.60,263.17 L170.10,263.74 L170.60,264.29 L171.10,264.81 L171.60,265.32 L172.10,265.81 L172.60,266.28 L173.10,266.74 L173.60,267.18 L174.10,267.62 L174.60,268.04 L175.10,268.45 L175.60,268.86 L176.10,269.25 L176.60,269.64 L177.10,270.01 L177.60,270.38 L178.10,270.73 L178.60,271.08 L179.10,271.41 L179.60,271.74 L180.10,272.06 L180.60,272.37 L181.10,272.67 L181.60,272.97 L182.10,273.25 L182.60,273.53 L183.10,273.80 L183.60,274.06 L184.10,274.31 L184.60,274.56 L185.10,274.80 L185.60,275.03 L186.10,275.26 L186.60,275.47 L187.10,275.69 L187.60,275.89 L188.10,276.09 L188.60,276.28 L189.10,276.47 L189.60,276.65 L190.10,276.82 L190.60,276.99 L191.10,277.16 L191.60,277.32 L192.10,277.47 L192.60,277.62 L193.10,277.77 L193.60,277.91 L194.10,278.05 L194.60,278.19 L195.10,278.32 L195.60,278.46 L196.10,278.58 L196.60,278.71 L197.10,278.83 L197.60,278.95 L198.10,279.07 L198.60,279.19 L199.10,279.31 L199.60,279.43 L200.10,279.54 L200.60,279.65 L201.10,279.77 L201.60,279.88 L202.10,279.99 L202.60,280.10 L203.10,280.21 L203.60,280.32 L204.10,280.43 L204.60,280.53 L205.10,280.64 L205.60,280.74 L206.10,280.84 L206.60,280.94 L207.10,281.03 L207.60,281.13 L208.10,281.22 L208.60,281.31 L209.10,281.39 L209.60,281.48 L210.10,281.56 L210.60,281.64 L211.10,281.72 L211.60,281.79 L212.10,281.86 L212.60,281.93 L213.10,281.99 L213.60,282.05 L214.10,282.11 L214.60,282.16 L215.10,282.21 L215.60,282.26 L216.10,282.31 L216.60,282.35 L217.10,282.39 L217.60,282.43 L218.10,282.47 L218.60,282.50 L219.10,282.54 L219.60,282.57 L220.10,282.60 L220.60,282.64 L221.10,282.67 L221.60,282.70 L222.10,282.73 L222.60,282.76 L223.10,282.79 L223.60,282.82 L224.10,282.85 L224.60,282.88 L225.10,282.91 L225.60,282.94 L226.10,282.98 L226.60,283.01 L227.10,283.05 L227.60,283.08 L228.10,283.12 L228.60,283.16 L229.10,283.21 L229.60,283.25 L230.10,283.29 L230.60,283.34 L231.10,283.38 L231.60,283.43 L232.10,283.47 L232.60,283.52 L233.10,283.57 L233.60,283.62 L234.10,283.67 L234.60,283.72 L235.10,283.77 L235.60,283.82 L236.10,283.87 L236.60,283.93 L237.10,283.98 L237.60,284.03 L238.10,284.08 L238.60,284.13 L239.10,284.19 L239.60,284.24 L240.10,284.29 L240.60,284.34 L241.10,284.39 L241.60,284.44 L242.10,284.49 L242.60,284.55 L243.10,284.60 L243.60,284.65 L244.10,284.70 L244.60,284.74 L245.10,284.79 L245.60,284.84 L246.10,284.89 L246.60,284.94 L247.10,284.99 L247.60,285.03 L248.10,285.08 L248.60,285.12 L249.10,285.17 L249.60,285.21 L250.10,285.26 L250.60,285.30 L251.10,285.34 L251.60,285.39 L252.10,285.43 L252.60,285.47 L253.10,285.51 L253.60,285.55 L254.10,285.59 L254.60,285.63 L255.10,285.66 L255.60,285.70 L256.10,285.73 L256.60,285.77 L257.10,285.80 L257.60,285.84 L258.10,285.87 L258.60,285.90 L259.10,285.93 L259.60,285.96 L260.10,285.99 L260.60,286.01 L261.10,286.04 L261.60,286.07 L262.10,286.09 L262.60,286.11 L263.10,286.14 L263.60,286.16 L264.10,286.18 L264.60,286.20 L265.10,286.21 L265.60,286.23 L266.10,286.25 L266.60,286.26 L267.10,286.27 L267.60,286.29 L268.10,286.30 L268.60,286.31 L269.10,286.32 L269.60,286.34 L270.10,286.35 L270.60,286.37 L271.10,286.39 L271.60,286.41 L272.10,286.43 L272.60,286.45 L273.10,286.48 L273.60,286.51 L274.10,286.55 L274.60,286.59 L275.10,286.63 L275.60,286.68 L276.10,286.73 L276.60,286.79 L277.10,286.85 L277.60,286.92 L278.10,287.00 L278.60,287.08 L279.10,287.17 L279.60,287.27 L280.10,287.37 L280.60,287.49 L281.10,287.61 L281.60,287.75 L282.10,287.90 L282.60,288.06 L283.10,288.24 L283.60,288.44 L284.10,288.65 L284.60,288.89 L285.10,289.15 L285.60,289.43 L286.10,289.73 L286.60,290.06 L287.10,290.41 L287.60,290.80 L288.10,291.21 L288.60,291.65 L289.10,292.13 L289.60,292.64 L290.10,293.18 L290.60,293.76 L291.10,294.38 L291.60,295.04 L292.10,295.74 L292.60,296.47 L293.10,297.25 L293.60,298.08 L294.10,298.94 L294.60,299.85 L295.10,300.80 L295.60,301.78 L296.10,302.81 L296.60,303.86 L297.10,304.96 L297.60,306.09 L298.10,307.25 L298.60,308.45 L299.10,309.68 L299.60,310.94 L300.10,312.23 L300.60,313.55 L301.10,314.89 L301.60,316.27 L302.10,317.67 L302.60,319.09 L303.10,320.54 L303.60,322.01 L304.10,323.50 L304.60,325.02 L305.10,326.55 L305.60,328.10 L306.10,329.67 L306.60,331.26 L307.10,332.86 L307.60,334.48 L308.10,336.11 L308.60,337.75 L309.10,339.40 L309.60,341.06 L310.10,342.73 L310.60,344.40 L311.10,346.08 L311.60,347.76 L312.10,349.44 L312.60,351.12 L313.10,352.80 L313.60,354.48 L314.10,356.16 L314.60,357.82 L315.10,359.48 L315.60,361.14 L316.10,362.78 L316.60,364.41 L317.10,366.03 L317.60,367.64 L318.10,369.23 L318.60,370.80 L319.10,372.35 L319.60,373.89 L320.10,375.40 L320.60,376.90 L321.10,378.37 L321.60,379.82 L322.10,381.25 L322.60,382.66 L323.10,384.05 L323.60,385.41 L324.10,386.75 L324.60,388.07 L325.10,389.37 L325.60,390.64 L326.10,391.89 L326.60,393.11 L327.10,394.31 L327.60,395.48 L328.10,396.63 L328.60,397.75 L329.10,398.85 L329.60,399.92 L330.10,400.97 L330.60,401.99 L331.10,402.98 L331.60,403.95 L332.10,404.88 L332.60,405.79 L333.10,406.68 L333.60,407.53 L334.10,408.36 L334.60,409.16 L335.10,409.94 L335.60,410.69 L336.10,411.41 L336.60,412.11 L337.10,412.79 L337.60,413.44 L338.10,414.07 L338.60,414.68 L339.10,415.26 L339.60,415.82 L340.10,416.37 L340.60,416.89 L341.10,417.39 L341.60,417.87 L342.10,418.34 L342.60,418.78 L343.10,419.21 L343.60,419.62 L344.10,420.01 L344.60,420.39 L345.10,420.75 L345.60,421.09 L346.10,421.42 L346.60,421.73 L347.10,422.03 L347.60,422.32 L348.10,422.60 L348.60,422.86 L349.10,423.12 L349.60,423.36 L350.10,423.59 L350.60,423.82 L351.10,424.03 L351.60,424.24 L352.10,424.45 L352.60,424.64 L353.10,424.84 L353.60,425.02 L354.10,425.21 L354.60,425.39 L355.10,425.57 L355.60,425.74 L356.10,425.92 L356.60,426.10 L357.10,426.27 L357.60,426.45 L358.10,426.63 L358.60,426.81 L359.10,427.00 L359.60,427.19 L360.10,427.38 L360.60,427.58 L361.10,427.78 L361.60,427.98 L362.10,428.18 L362.60,428.38 L363.10,428.59 L363.60,428.79 L364.10,428.99 L364.60,429.20 L365.10,429.40 L365.60,429.59 L366.10,429.79 L366.60,429.98 L367.10,430.16 L367.60,430.35 L368.10,430.52 L368.60,430.70 L369.10,430.86 L369.60,431.02 L370.10,431.17 L370.60,431.31 L371.10,431.45 L371.60,431.57 L372.10,431.69 L372.60,431.80 L373.10,431.89 L373.60,431.98 L374.10,432.06 L374.60,432.13 L375.10,432.19 L375.60,432.24 L376.10,432.29 L376.60,432.33 L377.10,432.36 L377.60,432.39 L378.10,432.41 L378.60,432.43 L379.10,432.45 L379.60,432.46 L380.10,432.47 L380.60,432.47 L381.10,432.48 L381.60,432.48 L382.10,432.48 L382.60,432.48 L383.10,432.48 L383.60,432.48 L384.10,432.48 L384.60,432.49 L385.10,432.49 L385.60,432.50 L386.10,432.51 L386.60,432.52 L387.10,432.54 L387.60,432.56 L388.10,432.58 L388.60,432.61 L389.10,432.64 L389.60,432.67 L390.10,432.71 L390.60,432.74 L391.10,432.78 L391.60,432.83 L392.10,432.87 L392.60,432.92 L393.10,432.97 L393.60,433.02 L394.10,433.08 L394.60,433.14 L395.10,433.20 L395.60,433.27 L396.10,433.33 L396.60,433.40 L397.10,433.47 L397.60,433.55 L398.10,433.62 L398.60,433.70 L399.10,433.78 L399.60,433.87 L400.10,433.95 L400.60,434.04 L401.10,434.13 L401.60,434.22 L402.10,434.31 L402.60,434.41 L403.10,434.50 L403.60,434.60 L404.10,434.69 L404.60,434.79 L405.10,434.89 L405.60,434.99 L406.10,435.09 L406.60,435.19 L407.10,435.29 L407.60,435.38 L408.10,435.48 L408.60,435.58 L409.10,435.68 L409.60,435.77 L410.10,435.87 L410.60,435.96 L411.10,436.06 L411.60,436.15 L412.10,436.24 L412.60,436.33 L413.10,436.41 L413.60,436.50 L414.10,436.58 L414.60,436.66 L415.10,436.74 L415.60,436.82 L416.10,436.89 L416.60,436.97 L417.10,437.04 L417.60,437.11 L418.10,437.18 L418.60,437.25 L419.10,437.31 L419.60,437.38 L420.10,437.44 L420.60,437.50 L421.10,437.56 L421.60,437.62 L422.10,437.67 L422.60,437.73 L423.10,437.78 L423.60,437.83 L424.10,437.88 L424.60,437.93 L425.10,437.97 L425.60,438.01 L426.10,438.06 L426.60,438.10 L427.10,438.14 L427.60,438.18 L428.10,438.21 L428.60,438.25 L429.10,438.28 L429.60,438.31 L430.10,438.35 L430.60,438.38 L431.10,438.41 L431.60,438.43 L432.10,438.46 L432.60,438.49 L433.10,438.51 L433.60,438.54 L434.10,438.56 L434.60,438.58 L435.10,438.61 L435.60,438.63 L436.10,438.65 L436.60,438.67 L437.10,438.69 L437.60,438.71 L438.10,438.73 L438.60,438.75 L439.10,438.76 L439.60,438.78 L440.10,438.80 L440.60,438.82 L441.10,438.83 L441.60,438.85 L442.10,438.86 L442.60,438.88 L443.10,438.89 L443.60,438.90 L444.10,438.91 L444.60,438.92 L445.10,438.92 L445.60,438.92 L446.10,438.93 L446.60,438.93 L447.10,438.92 L447.60,438.92 L448.10,438.91 L448.60,438.90 L449.10,438.89 L449.60,438.87 L450.10,438.85 L450.60,438.83 L451.10,438.80 L451.60,438.77 L452.10,438.74 L452.60,438.70 L453.10,438.66 L453.60,438.62 L454.10,438.57 L454.60,438.53 L455.10,438.47 L455.60,438.42 L456.10,438.36 L456.60,438.30 L457.10,438.24 L457.60,438.17 L458.10,438.11 L458.60,438.04 L459.10,437.97 L459.60,437.89 L460.10,437.82 L460.60,437.74 L461.10,437.67 L461.60,437.59 L462.10,437.51 L462.60,437.43 L463.10,437.35 L463.60,437.27 L464.10,437.19 L464.60,437.10 L465.10,437.02 L465.60,436.94 L466.10,436.86 L466.60,436.77 L467.10,436.69 L467.60,436.61 L468.10,436.53 L468.60,436.45 L469.10,436.37 L469.60,436.28 L470.10,436.20 L470.60,436.13 L471.10,436.05 L471.60,435.97 L472.10,435.89 L472.60,435.82 L473.10,435.74 L473.60,435.67 L474.10,435.59 L474.60,435.52 L475.10,435.45 L475.60,435.38 L476.10,435.31 L476.60,435.24 L477.10,435.18 L477.60,435.11 L478.10,435.05 L478.60,434.99 L479.10,434.93 L479.60,434.87 L480.10,434.81 L480.60,434.76 L481.10,434.70 L481.60,434.65 L482.10,434.60 L482.60,434.55 L483.10,434.50 L483.60,434.45 L484.10,434.40 L484.60,434.36 L485.10,434.31 L485.60,434.27 L486.10,434.22 L486.60,434.18 L487.10,434.14 L487.60,434.09 L488.10,434.05 L488.60,434.01 L489.10,433.97 L489.60,433.93 L490.10,433.89 L490.60,433.85 L491.10,433.80 L491.60,433.76 L492.10,433.72 L492.60,433.68 L493.10,433.64 L493.60,433.60 L494.10,433.55 L494.60,433.51 L495.10,433.47 L495.60,433.42 L496.10,433.38 L496.60,433.34 L497.10,433.29 L497.60,433.25 L498.10,433.20 L498.60,433.16 L499.10,433.11 L499.60,433.06 L500.10,433.01 L500.60,432.96 L501.10,432.91 L501.60,432.86 L502.10,432.81 L502.60,432.76 L503.10,432.71 L503.60,432.66 L504.10,432.60 L504.60,432.55 L505.10,432.49 L505.60,432.43 L506.10,432.38 L506.60,432.32 L507.10,432.26 L507.60,432.20 L508.10,432.14 L508.60,432.08 L509.10,432.03 L509.60,431.97 L510.10,431.91 L510.60,431.85 L511.10,431.80 L511.60,431.75 L512.10,431.69 L512.60,431.64 L513.10,431.60 L513.60,431.55 L514.10,431.51 L514.60,431.46 L515.10,431.42 L515.60,431.39 L516.10,431.36 L516.60,431.33 L517.10,431.30 L517.60,431.28 L518.10,431.26 L518.60,431.24 L519.10,431.23 L519.60,431.22 L520.10,431.21 L520.60,431.21 L521.10,431.21 L521.60,431.21 L522.10,431.21 L522.60,431.21 L523.10,431.21 L523.60,431.21 L524.10,431.21 L524.60,431.21 L525.10,431.20 L525.60,431.20 L526.10,431.19 L526.60,431.17 L527.10,431.16 L527.60,431.13 L528.10,431.11 L528.60,431.08 L529.10,431.04 L529.60,430.99 L530.10,430.94 L530.60,430.88 L531.10,430.82 L531.60,430.74 L532.10,430.66 L532.60,430.57 L533.10,430.47 L533.60,430.36 L534.10,430.25 L534.60,430.14 L535.10,430.01 L535.60,429.89 L536.10,429.76 L536.60,429.62 L537.10,429.49 L537.60,429.35 L538.10,429.21 L538.60,429.07 L539.10,428.93 L539.60,428.79 L540.10,428.65 L540.60,428.51 L541.10,428.38 L541.60,428.24 L542.10,428.11 L542.60,427.99 L543.10,427.87 L543.60,427.75 L544.10,427.64 L544.60,427.54 L545.10,427.45 L545.60,427.36 L546.10,427.28 L546.60,427.20 L547.10,427.13 L547.60,427.06 L548.10,427.00 L548.60,426.93 L549.10,426.88 L549.60,426.82 L550.10,426.76 L550.60,426.71 L551.10,426.65 L551.60,426.60 L552.10,426.54 L552.60,426.48 L553.10,426.42 L553.60,426.35 L554.10,426.28 L554.60,426.21 L555.10,426.13 L555.60,426.04 L556.10,425.95 L556.60,425.85 L557.10,425.74 L557.60,425.62 L558.10,425.49 L558.60,425.36 L559.10,425.21 L559.60,425.06 L560.10,424.89 L560.60,424.72 L561.10,424.53 L561.60,424.34 L562.10,424.14 L562.60,423.93 L563.10,423.71 L563.60,423.48 L564.10,423.25 L564.60,423.00 L565.10,422.75 L565.60,422.49 L566.10,422.22 L566.60,421.95 L567.10,421.67 L567.60,421.38 L568.10,421.08 L568.60,420.78 L569.10,420.47 L569.60,420.15 L570.10,419.83 L570.60,419.50 L571.10,419.17 L571.60,418.83 L572.10,418.48 L572.60,418.12 L573.10,417.76 L573.60,417.39 L574.10,417.01 L574.60,416.61 L575.10,416.21 L575.60,415.79 L576.10,415.36 L576.60,414.92 L577.10,414.45 L577.60,413.98 L578.10,413.48 L578.60,412.97 L579.10,412.43 L579.60,411.88 L580.10,411.30 L580.60,410.71 L581.10,410.08 L581.60,409.44 L582.10,408.77 L582.60,408.08 L583.10,407.35 L583.60,406.60 L584.10,405.82 L584.60,405.02 L585.10,404.18 L585.60,403.31 L586.10,402.41 L586.60,401.48 L587.10,400.53 L587.60,399.54 L588.10,398.53 L588.60,397.50 L589.10,396.43 L589.60,395.34 L590.10,394.22 L590.60,393.08 L591.10,391.92 L591.60,390.73 L592.10,389.52 L592.60,388.28 L593.10,387.03 L593.60,385.75 L594.10,384.45 L594.60,383.13 L595.10,381.79 L595.60,380.42 L596.10,379.04 L596.60,377.65 L597.10,376.23 L597.60,374.80 L598.10,373.34 L598.60,371.88 L599.10,370.39 L599.60,368.89 L600.10,367.37 L600.60,365.83 L601.10,364.27 L601.60,362.70 L602.10,361.11 L602.60,359.49 L603.10,357.86 L603.60,356.21 L604.10,354.54 L604.60,352.85 L605.10,351.14 L605.60,349.40 L606.10,347.65 L606.60,345.88 L607.10,344.08 L607.60,342.26 L608.10,340.42 L608.60,338.56 L609.10,336.68 L609.60,334.77 L610.10,332.84 L610.60,330.89 L611.10,328.91 L611.60,326.91 L612.10,324.88 L612.60,322.83 L613.10,320.75 L613.60,318.64 L614.10,316.50 L614.60,314.32 L615.10,312.11 L615.60,309.87 L616.10,307.59 L616.60,305.27 L617.10,302.91 L617.60,300.51 L618.10,298.07 L618.60,295.58 L619.10,293.05 L619.60,290.47 L620.10,287.85 L620.60,285.17 L621.10,282.44 L621.60,279.66 L622.10,276.82 L622.60,273.93 L623.10,270.98 L623.60,267.97 L624.10,264.90 L624.60,261.77 L625.10,258.58 L625.60,255.35 L626.10,252.07 L626.60,248.77 L627.10,245.45 L627.60,242.12 L628.10,238.79 L628.60,235.48 L629.10,232.18 L629.60,228.92 L630.10,225.71 L630.60,222.54 L631.10,219.44 L631.60,216.41 L632.10,213.46 L632.60,210.61 L633.10,207.86 L633.60,205.22 L634.10,202.71 L634.60,200.33 L635.10,198.10 L635.60,196.01 L636.10,194.10 L636.60,192.35 L637.10,190.79 L637.60,189.43 L638.10,188.26 L638.60,187.30 L639.10,186.53 L639.60,185.94 L640.10,185.53 L640.60,185.29 L641.10,185.22 L641.60,185.30 L642.10,185.53 L642.60,185.90 L643.10,186.40 L643.60,187.04 L644.10,187.79 L644.60,188.65 L645.10,189.62 L645.60,190.69 L646.10,191.84 L646.60,193.08 L647.10,194.40 L647.60,195.79 L648.10,197.23 L648.60,198.73 L649.10,200.28 L649.60,201.87 L650.10,203.49 L650.60,205.14 L651.10,206.80 L651.60,208.48 L652.10,210.16 L652.60,211.86 L653.10,213.56 L653.60,215.27 L654.10,216.98 L654.60,218.70 L655.10,220.41 L655.60,222.12 L656.10,223.83 L656.60,225.53 L657.10,227.23 L657.60,228.92 L658.10,230.59 L658.60,232.26 L659.10,233.91 L659.60,235.54 L660.10,237.16 L660.60,238.75 L661.10,240.33 L661.60,241.88 L662.10,243.40 L662.60,244.90 L663.10,246.37 L663.60,247.81 L664.10,249.22 L664.60,250.60 L665.10,251.94 L665.60,253.24 L666.10,254.52 L666.60,255.75 L667.10,256.96 L667.60,258.13 L668.10,259.26 L668.60,260.36 L669.10,261.43 L669.60,262.46 L670.10,263.46 L670.60,264.43 L671.10,265.36 L671.60,266.26 L672.10,267.12 L672.60,267.95 L673.10,268.74 L673.60,269.50 L674.10,270.23 L674.60,270.93 L675.10,271.59 L675.60,272.21 L676.10,272.80 L676.60,273.36 L677.10,273.89 L677.60,274.38 L678.10,274.84 L678.60,275.26 L679.10,275.66 L679.60,276.03 L680.10,276.37 L680.60,276.68 L681.10,276.97 L681.60,277.24 L682.10,277.49 L682.60,277.72 L683.10,277.93 L683.60,278.12 L684.10,278.30 L684.60,278.46 L685.10,278.62 L685.60,278.76 L686.10,278.89 L686.60,279.02 L687.10,279.14 L687.60,279.26 L688.10,279.38 L688.60,279.49 L689.10,279.60 L689.60,279.72 L690.10,279.84 L690.60,279.97 L691.10,280.10 L691.60,280.24 L692.10,280.38 L692.60,280.53 L693.10,280.69 L693.60,280.85 L694.10,281.01 L694.60,281.18 L695.10,281.35 L695.60,281.52 L696.10,281.69 L696.60,281.87 L697.10,282.04 L697.60,282.22 L698.10,282.39 L698.60,282.57 L699.10,282.74 L699.60,282.91 L700.10,283.08 L700.60,283.25 L701.10,283.41 L701.60,283.57 L702.10,283.72 L702.60,283.87 L703.10,284.01 L703.60,284.15 L704.10,284.28 L704.60,284.40 L705.10,284.51 L705.60,284.62 L706.10,284.73 L706.60,284.82 L707.10,284.92 L707.60,285.01 L708.10,285.09 L708.60,285.17 L709.10,285.25 L709.60,285.33 L710.10,285.40 L710.60,285.47 L711.10,285.54 L711.60,285.61 L712.10,285.68 L712.60,285.75 L713.10,285.82 L713.60,285.90 L714.10,285.97 L714.60,286.04 L715.10,286.12 L715.60,286.20 L716.10,286.29 L716.60,286.38 L717.10,286.47 L717.60,286.57 L718.10,286.67 L718.60,286.78 L719.10,286.89 L719.60,287.00 L720.10,287.12 L720.60,287.24 L721.10,287.36 L721.60,287.48 L722.10,287.60 L722.60,287.73 L723.10,287.86 L723.60,287.98 L724.10,288.11 L724.60,288.23 L725.10,288.35 L725.60,288.48 L726.10,288.60 L726.60,288.71 L727.10,288.83 L727.60,288.94 L728.10,289.05 L728.60,289.15 L729.10,289.25 L729.60,289.34 L730.10,289.43 L730.60,289.51 L731.10,289.59 L731.60,289.66 L732.10,289.72 L732.60,289.78 L733.10,289.84 L733.60,289.89 L734.10,289.93 L734.60,289.97 L735.10,290.01 L735.60,290.04 L736.10,290.07 L736.60,290.09 L737.10,290.12 L737.60,290.14 L738.10,290.15 L738.60,290.17 L739.10,290.18 L739.60,290.19 L740.10,290.20 L740.60,290.21 L741.10,290.22 L741.60,290.22 L742.10,290.23 L742.60,290.24 L743.10,290.24 L743.60,290.25 L744.10,290.25 L744.60,290.26 L745.10,290.27 L745.60,290.28 L746.10,290.29 L746.60,290.30 L747.10,290.31 L747.60,290.32 L748.10,290.33 L748.60,290.35 L749.10,290.36 L749.60,290.38 L750.10,290.40 L750.60,290.41 L751.10,290.43 L751.60,290.45 L752.10,290.47 L752.60,290.50 L753.10,290.52 L753.60,290.54 L754.10,290.57 L754.60,290.60 L755.10,290.63 L755.60,290.66 L756.10,290.69 L756.60,290.72 L757.10,290.75 L757.60,290.79 L758.10,290.83 L758.60,290.86 L759.10,290.90 L759.60,290.94 L760.10,290.99 L760.60,291.03 L761.10,291.07 L761.60,291.12 L762.10,291.16 L762.60,291.21 L763.10,291.26 L763.60,291.31 L764.10,291.36 L764.60,291.41 L765.10,291.46 L765.60,291.51 L766.10,291.56 L766.60,291.61 L767.10,291.66 L767.60,291.71 L768.10,291.77 L768.60,291.82 L769.10,291.87 L769.60,291.92 L770.10,291.98 L770.60,292.03 L771.10,292.08 L771.60,292.13 L772.10,292.19 L772.60,292.24 L773.10,292.29 L773.60,292.34 L774.10,292.39 L774.60,292.44 L775.10,292.49 L775.60,292.54 L776.10,292.59 L776.60,292.64 L777.10,292.69 L777.60,292.74 L778.10,292.78 L778.60,292.83 L779.10,292.88 L779.60,292.92 L780.10,292.97 L780.60,293.01 L781.10,293.05 L781.60,293.09 L782.10,293.13 L782.60,293.17 L783.10,293.21 L783.60,293.25 L784.10,293.29 L784.60,293.32 L785.10,293.36" fill="none" stroke="#ff0000" stroke-width="2.6" stroke-dasharray="3.7 1.7"/>
<circle cx="133.60" cy="244.25" r="5.3" fill="#ff0000"/>
<circle cx="146.87" cy="205.00" r="5.3" fill="#ff0000"/>
<circle cx="160.13" cy="245.00" r="5.3" fill="#ff0000"/>
<circle cx="173.39" cy="267.00" r="5.3" fill="#ff0000"/>
<circle cx="186.66" cy="275.50" r="5.3" fill="#ff0000"/>
<circle cx="199.93" cy="279.50" r="5.3" fill="#ff0000"/>
<circle cx="213.19" cy="282.00" r="5.3" fill="#ff0000"/>
<circle cx="226.45" cy="283.00" r="5.3" fill="#ff0000"/>
<circle cx="239.72" cy="284.25" r="5.3" fill="#ff0000"/>
<circle cx="252.99" cy="285.50" r="5.3" fill="#ff0000"/>
<circle cx="266.25" cy="286.25" r="5.3" fill="#ff0000"/>
<circle cx="279.51" cy="287.25" r="5.3" fill="#ff0000"/>
<circle cx="292.78" cy="296.75" r="5.3" fill="#ff0000"/>
<circle cx="306.04" cy="329.50" r="5.3" fill="#ff0000"/>
<circle cx="319.31" cy="373.00" r="5.3" fill="#ff0000"/>
<circle cx="332.58" cy="405.75" r="5.3" fill="#ff0000"/>
<circle cx="345.84" cy="421.25" r="5.3" fill="#ff0000"/>
<circle cx="359.11" cy="427.00" r="5.3" fill="#ff0000"/>
<circle cx="372.37" cy="431.75" r="5.3" fill="#ff0000"/>
<circle cx="385.63" cy="432.50" r="5.3" fill="#ff0000"/>
<circle cx="398.90" cy="433.75" r="5.3" fill="#ff0000"/>
<circle cx="412.16" cy="436.25" r="5.3" fill="#ff0000"/>
<circle cx="425.43" cy="438.00" r="5.3" fill="#ff0000"/>
<circle cx="438.70" cy="438.75" r="5.3" fill="#ff0000"/>
<circle cx="451.96" cy="438.75" r="5.3" fill="#ff0000"/>
<circle cx="465.23" cy="437.00" r="5.3" fill="#ff0000"/>
<circle cx="478.49" cy="435.00" r="5.3" fill="#ff0000"/>
<circle cx="491.75" cy="433.75" r="5.3" fill="#ff0000"/>
<circle cx="505.02" cy="432.50" r="5.3" fill="#ff0000"/>
<circle cx="518.28" cy="431.25" r="5.3" fill="#ff0000"/>
<circle cx="531.55" cy="430.75" r="5.3" fill="#ff0000"/>
<circle cx="544.82" cy="427.50" r="5.3" fill="#ff0000"/>
<circle cx="558.08" cy="425.50" r="5.3" fill="#ff0000"/>
<circle cx="571.35" cy="419.00" r="5.3" fill="#ff0000"/>
<circle cx="584.61" cy="405.00" r="5.3" fill="#ff0000"/>
<circle cx="597.88" cy="374.00" r="5.3" fill="#ff0000"/>
<circle cx="611.14" cy="328.75" r="5.3" fill="#ff0000"/>
<circle cx="624.40" cy="263.00" r="5.3" fill="#ff0000"/>
<circle cx="637.67" cy="189.25" r="5.3" fill="#ff0000"/>
<circle cx="650.94" cy="206.25" r="5.3" fill="#ff0000"/>
<circle cx="664.20" cy="249.50" r="5.3" fill="#ff0000"/>
<circle cx="677.47" cy="274.25" r="5.3" fill="#ff0000"/>
<circle cx="690.73" cy="280.00" r="5.3" fill="#ff0000"/>
<circle cx="704.00" cy="284.25" r="5.3" fill="#ff0000"/>
<circle cx="717.26" cy="286.50" r="5.3" fill="#ff0000"/>
<circle cx="730.53" cy="289.50" r="5.3" fill="#ff0000"/>
<circle cx="743.79" cy="290.25" r="5.3" fill="#ff0000"/>
<circle cx="757.06" cy="290.75" r="5.3" fill="#ff0000"/>
<circle cx="770.32" cy="292.00" r="5.3" fill="#ff0000"/>
<circle cx="783.59" cy="293.25" r="5.3" fill="#ff0000"/>
<path d="M131.60,99.25 L132.10,96.58 L132.60,94.14 L133.10,91.94 L133.60,90.00 L134.10,88.32 L134.60,86.90 L135.10,85.72 L135.60,84.79 L136.10,84.09 L136.60,83.62 L137.10,83.37 L137.60,83.33 L138.10,83.49 L138.60,83.85 L139.10,84.40 L139.60,85.14 L140.10,86.05 L140.60,87.12 L141.10,88.36 L141.60,89.75 L142.10,91.28 L142.60,92.95 L143.10,94.75 L143.60,96.68 L144.10,98.72 L144.60,100.87 L145.10,103.12 L145.60,105.46 L146.10,107.89 L146.60,110.39 L147.10,112.97 L147.60,115.61 L148.10,118.31 L148.60,121.06 L149.10,123.87 L149.60,126.71 L150.10,129.59 L150.60,132.50 L151.10,135.44 L151.60,138.39 L152.10,141.36 L152.60,144.34 L153.10,147.33 L153.60,150.31 L154.10,153.28 L154.60,156.24 L155.10,159.18 L155.60,162.10 L156.10,164.99 L156.60,167.84 L157.10,170.65 L157.60,173.42 L158.10,176.13 L158.60,178.79 L159.10,181.38 L159.60,183.91 L160.10,186.36 L160.60,188.73 L161.10,191.02 L161.60,193.24 L162.10,195.38 L162.60,197.45 L163.10,199.45 L163.60,201.38 L164.10,203.24 L164.60,205.03 L165.10,206.76 L165.60,208.43 L166.10,210.04 L166.60,211.59 L167.10,213.08 L167.60,214.52 L168.10,215.91 L168.60,217.24 L169.10,218.52 L169.60,219.76 L170.10,220.95 L170.60,222.09 L171.10,223.19 L171.60,224.25 L172.10,225.27 L172.60,226.26 L173.10,227.21 L173.60,228.12 L174.10,229.00 L174.60,229.85 L175.10,230.67 L175.60,231.46 L176.10,232.23 L176.60,232.96 L177.10,233.67 L177.60,234.35 L178.10,235.00 L178.60,235.64 L179.10,236.24 L179.60,236.83 L180.10,237.40 L180.60,237.94 L181.10,238.46 L181.60,238.97 L182.10,239.46 L182.60,239.93 L183.10,240.39 L183.60,240.83 L184.10,241.25 L184.60,241.67 L185.10,242.07 L185.60,242.46 L186.10,242.84 L186.60,243.21 L187.10,243.57 L187.60,243.92 L188.10,244.26 L188.60,244.60 L189.10,244.93 L189.60,245.25 L190.10,245.56 L190.60,245.86 L191.10,246.16 L191.60,246.45 L192.10,246.73 L192.60,247.01 L193.10,247.27 L193.60,247.53 L194.10,247.79 L194.60,248.03 L195.10,248.27 L195.60,248.50 L196.10,248.73 L196.60,248.95 L197.10,249.16 L197.60,249.37 L198.10,249.57 L198.60,249.76 L199.10,249.95 L199.60,250.13 L200.10,250.31 L200.60,250.48 L201.10,250.65 L201.60,250.81 L202.10,250.96 L202.60,251.11 L203.10,251.25 L203.60,251.38 L204.10,251.51 L204.60,251.63 L205.10,251.74 L205.60,251.85 L206.10,251.94 L206.60,252.04 L207.10,252.12 L207.60,252.20 L208.10,252.27 L208.60,252.33 L209.10,252.38 L209.60,252.43 L210.10,252.46 L210.60,252.49 L211.10,252.51 L211.60,252.52 L212.10,252.53 L212.60,252.52 L213.10,252.50 L213.60,252.48 L214.10,252.45 L214.60,252.41 L215.10,252.36 L215.60,252.30 L216.10,252.24 L216.60,252.18 L217.10,252.11 L217.60,252.04 L218.10,251.96 L218.60,251.89 L219.10,251.81 L219.60,251.73 L220.10,251.65 L220.60,251.58 L221.10,251.50 L221.60,251.43 L222.10,251.36 L222.60,251.29 L223.10,251.23 L223.60,251.18 L224.10,251.13 L224.60,251.09 L225.10,251.05 L225.60,251.02 L226.10,251.01 L226.60,251.00 L227.10,251.00 L227.60,251.01 L228.10,251.03 L228.60,251.06 L229.10,251.09 L229.60,251.12 L230.10,251.16 L230.60,251.20 L231.10,251.25 L231.60,251.29 L232.10,251.33 L232.60,251.37 L233.10,251.40 L233.60,251.43 L234.10,251.46 L234.60,251.47 L235.10,251.48 L235.60,251.49 L236.10,251.48 L236.60,251.46 L237.10,251.42 L237.60,251.38 L238.10,251.31 L238.60,251.24 L239.10,251.14 L239.60,251.03 L240.10,250.90 L240.60,250.75 L241.10,250.58 L241.60,250.39 L242.10,250.17 L242.60,249.94 L243.10,249.69 L243.60,249.42 L244.10,249.13 L244.60,248.81 L245.10,248.48 L245.60,248.12 L246.10,247.74 L246.60,247.34 L247.10,246.92 L247.60,246.48 L248.10,246.01 L248.60,245.52 L249.10,245.01 L249.60,244.48 L250.10,243.92 L250.60,243.34 L251.10,242.74 L251.60,242.11 L252.10,241.46 L252.60,240.79 L253.10,240.09 L253.60,239.36 L254.10,238.62 L254.60,237.84 L255.10,237.04 L255.60,236.20 L256.10,235.34 L256.60,234.45 L257.10,233.52 L257.60,232.56 L258.10,231.56 L258.60,230.53 L259.10,229.45 L259.60,228.34 L260.10,227.19 L260.60,226.00 L261.10,224.76 L261.60,223.48 L262.10,222.16 L262.60,220.78 L263.10,219.37 L263.60,217.90 L264.10,216.38 L264.60,214.81 L265.10,213.19 L265.60,211.51 L266.10,209.78 L266.60,207.99 L267.10,206.15 L267.60,204.25 L268.10,202.30 L268.60,200.29 L269.10,198.24 L269.60,196.13 L270.10,193.97 L270.60,191.76 L271.10,189.50 L271.60,187.19 L272.10,184.84 L272.60,182.44 L273.10,179.99 L273.60,177.50 L274.10,174.97 L274.60,172.39 L275.10,169.78 L275.60,167.12 L276.10,164.42 L276.60,161.68 L277.10,158.91 L277.60,156.10 L278.10,153.25 L278.60,150.37 L279.10,147.45 L279.60,144.50 L280.10,141.51 L280.60,138.50 L281.10,135.47 L281.60,132.41 L282.10,129.34 L282.60,126.26 L283.10,123.17 L283.60,120.08 L284.10,116.99 L284.60,113.91 L285.10,110.84 L285.60,107.78 L286.10,104.74 L286.60,101.72 L287.10,98.73 L287.60,95.78 L288.10,92.85 L288.60,89.97 L289.10,87.13 L289.60,84.34 L290.10,81.60 L290.60,78.92 L291.10,76.30 L291.60,73.75 L292.10,71.26 L292.60,68.85 L293.10,66.52 L293.60,64.26 L294.10,62.10 L294.60,60.03 L295.10,58.06 L295.60,56.19 L296.10,54.42 L296.60,52.78 L297.10,51.24 L297.60,49.84 L298.10,48.56 L298.60,47.41 L299.10,46.40 L299.60,45.54 L300.10,44.82 L300.60,44.26 L301.10,43.86 L301.60,43.62 L302.10,43.55 L302.60,43.65 L303.10,43.93 L303.60,44.40 L304.10,45.06 L304.60,45.91 L305.10,46.96 L305.60,48.21 L306.10,49.67 L306.60,51.34 L307.10,53.22 L307.60,55.29 L308.10,57.53 L308.60,59.95 L309.10,62.52 L309.60,65.24 L310.10,68.10 L310.60,71.08 L311.10,74.17 L311.60,77.37 L312.10,80.67 L312.60,84.04 L313.10,87.48 L313.60,90.99 L314.10,94.54 L314.60,98.13 L315.10,101.74 L315.60,105.38 L316.10,109.01 L316.60,112.64 L317.10,116.26 L317.60,119.85 L318.10,123.39 L318.60,126.89 L319.10,130.33 L319.60,133.69 L320.10,136.98 L320.60,140.20 L321.10,143.34 L321.60,146.41 L322.10,149.41 L322.60,152.34 L323.10,155.20 L323.60,157.99 L324.10,160.71 L324.60,163.37 L325.10,165.97 L325.60,168.50 L326.10,170.96 L326.60,173.37 L327.10,175.71 L327.60,178.00 L328.10,180.23 L328.60,182.40 L329.10,184.51 L329.60,186.57 L330.10,188.58 L330.60,190.53 L331.10,192.43 L331.60,194.28 L332.10,196.08 L332.60,197.84 L333.10,199.54 L333.60,201.20 L334.10,202.81 L334.60,204.38 L335.10,205.90 L335.60,207.38 L336.10,208.81 L336.60,210.20 L337.10,211.55 L337.60,212.86 L338.10,214.12 L338.60,215.35 L339.10,216.54 L339.60,217.68 L340.10,218.79 L340.60,219.86 L341.10,220.90 L341.60,221.90 L342.10,222.86 L342.60,223.79 L343.10,224.68 L343.60,225.54 L344.10,226.37 L344.60,227.16 L345.10,227.93 L345.60,228.66 L346.10,229.36 L346.60,230.03 L347.10,230.68 L347.60,231.29 L348.10,231.88 L348.60,232.45 L349.10,232.99 L349.60,233.51 L350.10,234.01 L350.60,234.49 L351.10,234.95 L351.60,235.40 L352.10,235.82 L352.60,236.24 L353.10,236.63 L353.60,237.02 L354.10,237.39 L354.60,237.75 L355.10,238.11 L355.60,238.45 L356.10,238.79 L356.60,239.12 L357.10,239.45 L357.60,239.78 L358.10,240.10 L358.60,240.42 L359.10,240.75 L359.60,241.07 L360.10,241.39 L360.60,241.72 L361.10,242.04 L361.60,242.37 L362.10,242.68 L362.60,243.00 L363.10,243.31 L363.60,243.62 L364.10,243.93 L364.60,244.22 L365.10,244.51 L365.60,244.80 L366.10,245.07 L366.60,245.34 L367.10,245.59 L367.60,245.84 L368.10,246.07 L368.60,246.29 L369.10,246.50 L369.60,246.70 L370.10,246.88 L370.60,247.04 L371.10,247.19 L371.60,247.33 L372.10,247.44 L372.60,247.54 L373.10,247.62 L373.60,247.69 L374.10,247.73 L374.60,247.77 L375.10,247.78 L375.60,247.79 L376.10,247.78 L376.60,247.77 L377.10,247.74 L377.60,247.70 L378.10,247.66 L378.60,247.61 L379.10,247.55 L379.60,247.49 L380.10,247.42 L380.60,247.36 L381.10,247.29 L381.60,247.22 L382.10,247.15 L382.60,247.08 L383.10,247.01 L383.60,246.95 L384.10,246.89 L384.60,246.84 L385.10,246.79 L385.60,246.75 L386.10,246.72 L386.60,246.70 L387.10,246.68 L387.60,246.67 L388.10,246.67 L388.60,246.67 L389.10,246.67 L389.60,246.68 L390.10,246.68 L390.60,246.69 L391.10,246.70 L391.60,246.71 L392.10,246.72 L392.60,246.72 L393.10,246.73 L393.60,246.72 L394.10,246.72 L394.60,246.71 L395.10,246.69 L395.60,246.66 L396.10,246.63 L396.60,246.58 L397.10,246.53 L397.60,246.47 L398.10,246.39 L398.60,246.31 L399.10,246.21 L399.60,246.10 L400.10,245.97 L400.60,245.83 L401.10,245.67 L401.60,245.51 L402.10,245.33 L402.60,245.13 L403.10,244.93 L403.60,244.71 L404.10,244.48 L404.60,244.23 L405.10,243.97 L405.60,243.70 L406.10,243.42 L406.60,243.12 L407.10,242.82 L407.60,242.50 L408.10,242.16 L408.60,241.82 L409.10,241.46 L409.60,241.09 L410.10,240.71 L410.60,240.31 L411.10,239.91 L411.60,239.49 L412.10,239.06 L412.60,238.61 L413.10,238.16 L413.60,237.69 L414.10,237.21 L414.60,236.70 L415.10,236.18 L415.60,235.65 L416.10,235.09 L416.60,234.50 L417.10,233.90 L417.60,233.27 L418.10,232.62 L418.60,231.94 L419.10,231.23 L419.60,230.49 L420.10,229.72 L420.60,228.91 L421.10,228.08 L421.60,227.21 L422.10,226.30 L422.60,225.36 L423.10,224.37 L423.60,223.35 L424.10,222.29 L424.60,221.18 L425.10,220.03 L425.60,218.84 L426.10,217.60 L426.60,216.31 L427.10,214.99 L427.60,213.61 L428.10,212.20 L428.60,210.74 L429.10,209.24 L429.60,207.70 L430.10,206.12 L430.60,204.50 L431.10,202.84 L431.60,201.14 L432.10,199.40 L432.60,197.63 L433.10,195.82 L433.60,193.97 L434.10,192.09 L434.60,190.17 L435.10,188.22 L435.60,186.24 L436.10,184.22 L436.60,182.17 L437.10,180.09 L437.60,177.98 L438.10,175.84 L438.60,173.67 L439.10,171.47 L439.60,169.24 L440.10,166.98 L440.60,164.70 L441.10,162.40 L441.60,160.07 L442.10,157.72 L442.60,155.35 L443.10,152.96 L443.60,150.55 L444.10,148.12 L444.60,145.67 L445.10,143.21 L445.60,140.74 L446.10,138.25 L446.60,135.75 L447.10,133.24 L447.60,130.72 L448.10,128.19 L448.60,125.65 L449.10,123.11 L449.60,120.56 L450.10,118.01 L450.60,115.46 L451.10,112.90 L451.60,110.34 L452.10,107.78 L452.60,105.23 L453.10,102.68 L453.60,100.14 L454.10,97.61 L454.60,95.10 L455.10,92.61 L455.60,90.15 L456.10,87.71 L456.60,85.30 L457.10,82.93 L457.60,80.59 L458.10,78.30 L458.60,76.05 L459.10,73.85 L459.60,71.71 L460.10,69.61 L460.60,67.58 L461.10,65.61 L461.60,63.71 L462.10,61.88 L462.60,60.12 L463.10,58.44 L463.60,56.84 L464.10,55.33 L464.60,53.90 L465.10,52.57 L465.60,51.33 L466.10,50.19 L466.60,49.14 L467.10,48.20 L467.60,47.35 L468.10,46.61 L468.60,45.97 L469.10,45.43 L469.60,45.00 L470.10,44.68 L470.60,44.46 L471.10,44.35 L471.60,44.34 L472.10,44.45 L472.60,44.67 L473.10,45.00 L473.60,45.45 L474.10,46.00 L474.60,46.68 L475.10,47.47 L475.60,48.38 L476.10,49.41 L476.60,50.56 L477.10,51.83 L477.60,53.22 L478.10,54.73 L478.60,56.37 L479.10,58.13 L479.60,60.01 L480.10,62.00 L480.60,64.10 L481.10,66.29 L481.60,68.57 L482.10,70.94 L482.60,73.38 L483.10,75.89 L483.60,78.47 L484.10,81.11 L484.60,83.80 L485.10,86.53 L485.60,89.31 L486.10,92.11 L486.60,94.94 L487.10,97.79 L487.60,100.65 L488.10,103.51 L488.60,106.38 L489.10,109.23 L489.60,112.07 L490.10,114.89 L490.60,117.69 L491.10,120.45 L491.60,123.17 L492.10,125.84 L492.60,128.46 L493.10,131.04 L493.60,133.56 L494.10,136.03 L494.60,138.46 L495.10,140.84 L495.60,143.16 L496.10,145.44 L496.60,147.67 L497.10,149.85 L497.60,151.98 L498.10,154.06 L498.60,156.09 L499.10,158.07 L499.60,160.00 L500.10,161.88 L500.60,163.71 L501.10,165.50 L501.60,167.23 L502.10,168.91 L502.60,170.55 L503.10,172.13 L503.60,173.66 L504.10,175.15 L504.60,176.58 L505.10,177.97 L505.60,179.30 L506.10,180.59 L506.60,181.83 L507.10,183.03 L507.60,184.18 L508.10,185.28 L508.60,186.35 L509.10,187.38 L509.60,188.36 L510.10,189.31 L510.60,190.23 L511.10,191.11 L511.60,191.95 L512.10,192.77 L512.60,193.55 L513.10,194.31 L513.60,195.03 L514.10,195.74 L514.60,196.41 L515.10,197.06 L515.60,197.69 L516.10,198.30 L516.60,198.89 L517.10,199.46 L517.60,200.02 L518.10,200.55 L518.60,201.08 L519.10,201.59 L519.60,202.09 L520.10,202.57 L520.60,203.04 L521.10,203.50 L521.60,203.94 L522.10,204.37 L522.60,204.79 L523.10,205.19 L523.60,205.58 L524.10,205.96 L524.60,206.32 L525.10,206.67 L525.60,207.01 L526.10,207.33 L526.60,207.64 L527.10,207.94 L527.60,208.22 L528.10,208.49 L528.60,208.75 L529.10,208.99 L529.60,209.22 L530.10,209.44 L530.60,209.65 L531.10,209.84 L531.60,210.02 L532.10,210.18 L532.60,210.34 L533.10,210.48 L533.60,210.61 L534.10,210.73 L534.60,210.84 L535.10,210.95 L535.60,211.04 L536.10,211.12 L536.60,211.20 L537.10,211.28 L537.60,211.34 L538.10,211.40 L538.60,211.46 L539.10,211.51 L539.60,211.56 L540.10,211.60 L540.60,211.64 L541.10,211.68 L541.60,211.72 L542.10,211.76 L542.60,211.80 L543.10,211.85 L543.60,211.89 L544.10,211.93 L544.60,211.98 L545.10,212.03 L545.60,212.08 L546.10,212.14 L546.60,212.20 L547.10,212.26 L547.60,212.32 L548.10,212.38 L548.60,212.44 L549.10,212.50 L549.60,212.56 L550.10,212.61 L550.60,212.67 L551.10,212.72 L551.60,212.77 L552.10,212.81 L552.60,212.84 L553.10,212.88 L553.60,212.90 L554.10,212.92 L554.60,212.93 L555.10,212.93 L555.60,212.93 L556.10,212.91 L556.60,212.89 L557.10,212.85 L557.60,212.81 L558.10,212.75 L558.60,212.68 L559.10,212.60 L559.60,212.50 L560.10,212.40 L560.60,212.28 L561.10,212.15 L561.60,212.02 L562.10,211.87 L562.60,211.71 L563.10,211.54 L563.60,211.36 L564.10,211.17 L564.60,210.97 L565.10,210.77 L565.60,210.55 L566.10,210.33 L566.60,210.09 L567.10,209.85 L567.60,209.60 L568.10,209.34 L568.60,209.08 L569.10,208.81 L569.60,208.53 L570.10,208.24 L570.60,207.95 L571.10,207.65 L571.60,207.34 L572.10,207.03 L572.60,206.71 L573.10,206.39 L573.60,206.05 L574.10,205.70 L574.60,205.35 L575.10,204.98 L575.60,204.60 L576.10,204.21 L576.60,203.80 L577.10,203.38 L577.60,202.94 L578.10,202.49 L578.60,202.02 L579.10,201.53 L579.60,201.03 L580.10,200.50 L580.60,199.95 L581.10,199.39 L581.60,198.80 L582.10,198.19 L582.60,197.55 L583.10,196.90 L583.60,196.21 L584.10,195.50 L584.60,194.77 L585.10,194.00 L585.60,193.21 L586.10,192.39 L586.60,191.55 L587.10,190.68 L587.60,189.79 L588.10,188.87 L588.60,187.93 L589.10,186.96 L589.60,185.97 L590.10,184.96 L590.60,183.93 L591.10,182.88 L591.60,181.80 L592.10,180.71 L592.60,179.59 L593.10,178.46 L593.60,177.30 L594.10,176.13 L594.60,174.94 L595.10,173.74 L595.60,172.51 L596.10,171.27 L596.60,170.02 L597.10,168.75 L597.60,167.46 L598.10,166.16 L598.60,164.85 L599.10,163.52 L599.60,162.17 L600.10,160.81 L600.60,159.43 L601.10,158.03 L601.60,156.61 L602.10,155.17 L602.60,153.70 L603.10,152.21 L603.60,150.70 L604.10,149.16 L604.60,147.60 L605.10,146.01 L605.60,144.39 L606.10,142.74 L606.60,141.06 L607.10,139.35 L607.60,137.60 L608.10,135.83 L608.60,134.02 L609.10,132.17 L609.60,130.29 L610.10,128.37 L610.60,126.41 L611.10,124.41 L611.60,122.37 L612.10,120.30 L612.60,118.19 L613.10,116.05 L613.60,113.88 L614.10,111.68 L614.60,109.47 L615.10,107.23 L615.60,104.97 L616.10,102.71 L616.60,100.43 L617.10,98.14 L617.60,95.85 L618.10,93.56 L618.60,91.27 L619.10,88.98 L619.60,86.70 L620.10,84.43 L620.60,82.17 L621.10,79.93 L621.60,77.71 L622.10,75.51 L622.60,73.34 L623.10,71.19 L623.60,69.08 L624.10,67.00 L624.60,64.96 L625.10,62.96 L625.60,61.00 L626.10,59.09 L626.60,57.24 L627.10,55.45 L627.60,53.73 L628.10,52.07 L628.60,50.48 L629.10,48.98 L629.60,47.55 L630.10,46.22 L630.60,44.98 L631.10,43.83 L631.60,42.79 L632.10,41.85 L632.60,41.02 L633.10,40.31 L633.60,39.72 L634.10,39.26 L634.60,38.93 L635.10,38.73 L635.60,38.67 L636.10,38.75 L636.60,38.98 L637.10,39.37 L637.60,39.91 L638.10,40.62 L638.60,41.48 L639.10,42.50 L639.60,43.67 L640.10,44.99 L640.60,46.44 L641.10,48.03 L641.60,49.75 L642.10,51.60 L642.60,53.57 L643.10,55.66 L643.60,57.86 L644.10,60.17 L644.60,62.57 L645.10,65.08 L645.60,67.68 L646.10,70.37 L646.60,73.14 L647.10,76.00 L647.60,78.92 L648.10,81.92 L648.60,84.98 L649.10,88.10 L649.60,91.28 L650.10,94.51 L650.60,97.78 L651.10,101.10 L651.60,104.45 L652.10,107.84 L652.60,111.25 L653.10,114.68 L653.60,118.14 L654.10,121.61 L654.60,125.09 L655.10,128.58 L655.60,132.07 L656.10,135.56 L656.60,139.04 L657.10,142.51 L657.60,145.96 L658.10,149.39 L658.60,152.80 L659.10,156.18 L659.60,159.53 L660.10,162.84 L660.60,166.10 L661.10,169.33 L661.60,172.50 L662.10,175.61 L662.60,178.67 L663.10,181.66 L663.60,184.59 L664.10,187.44 L664.60,190.21 L665.10,192.91 L665.60,195.54 L666.10,198.08 L666.60,200.55 L667.10,202.95 L667.60,205.27 L668.10,207.51 L668.60,209.68 L669.10,211.78 L669.60,213.81 L670.10,215.76 L670.60,217.64 L671.10,219.46 L671.60,221.20 L672.10,222.87 L672.60,224.47 L673.10,226.00 L673.60,227.46 L674.10,228.85 L674.60,230.18 L675.10,231.44 L675.60,232.63 L676.10,233.76 L676.60,234.82 L677.10,235.81 L677.60,236.74 L678.10,237.61 L678.60,238.42 L679.10,239.17 L679.60,239.86 L680.10,240.51 L680.60,241.10 L681.10,241.65 L681.60,242.16 L682.10,242.63 L682.60,243.06 L683.10,243.46 L683.60,243.82 L684.10,244.16 L684.60,244.48 L685.10,244.77 L685.60,245.04 L686.10,245.30 L686.60,245.55 L687.10,245.79 L687.60,246.02 L688.10,246.24 L688.60,246.47 L689.10,246.70 L689.60,246.93 L690.10,247.18 L690.60,247.43 L691.10,247.70 L691.60,247.98 L692.10,248.28 L692.60,248.59 L693.10,248.90 L693.60,249.23 L694.10,249.56 L694.60,249.90 L695.10,250.25 L695.60,250.60 L696.10,250.95 L696.60,251.30 L697.10,251.65 L697.60,252.00 L698.10,252.35 L698.60,252.69 L699.10,253.03 L699.60,253.36 L700.10,253.68 L700.60,253.99 L701.10,254.29 L701.60,254.58 L702.10,254.85 L702.60,255.11 L703.10,255.36 L703.60,255.58 L704.10,255.79 L704.60,255.98 L705.10,256.15 L705.60,256.30 L706.10,256.44 L706.60,256.56 L707.10,256.67 L707.60,256.76 L708.10,256.85 L708.60,256.92 L709.10,256.99 L709.60,257.05 L710.10,257.11 L710.60,257.16 L711.10,257.20 L711.60,257.25 L712.10,257.29 L712.60,257.33 L713.10,257.38 L713.60,257.43 L714.10,257.48 L714.60,257.54 L715.10,257.61 L715.60,257.68 L716.10,257.76 L716.60,257.86 L717.10,257.96 L717.60,258.08 L718.10,258.21 L718.60,258.36 L719.10,258.51 L719.60,258.67 L720.10,258.84 L720.60,259.01 L721.10,259.19 L721.60,259.38 L722.10,259.56 L722.60,259.75 L723.10,259.93 L723.60,260.11 L724.10,260.29 L724.60,260.47 L725.10,260.64 L725.60,260.80 L726.10,260.96 L726.60,261.10 L727.10,261.24 L727.60,261.36 L728.10,261.46 L728.60,261.56 L729.10,261.63 L729.60,261.69 L730.10,261.73 L730.60,261.75 L731.10,261.75 L731.60,261.73 L732.10,261.68 L732.60,261.62 L733.10,261.54 L733.60,261.43 L734.10,261.31 L734.60,261.17 L735.10,261.00 L735.60,260.82 L736.10,260.63 L736.60,260.41 L737.10,260.18 L737.60,259.92 L738.10,259.66 L738.60,259.37 L739.10,259.07 L739.60,258.75 L740.10,258.42 L740.60,258.07 L741.10,257.71 L741.60,257.33 L742.10,256.93 L742.60,256.53 L743.10,256.10 L743.60,255.67 L744.10,255.22 L744.60,254.76 L745.10,254.28 L745.60,253.79 L746.10,253.29 L746.60,252.78 L747.10,252.25 L747.60,251.71 L748.10,251.15 L748.60,250.59 L749.10,250.01 L749.60,249.41 L750.10,248.80 L750.60,248.18 L751.10,247.55 L751.60,246.90 L752.10,246.24 L752.60,245.57 L753.10,244.89 L753.60,244.19 L754.10,243.48 L754.60,242.75 L755.10,242.01 L755.60,241.26 L756.10,240.50 L756.60,239.72 L757.10,238.93 L757.60,238.12 L758.10,237.31 L758.60,236.48 L759.10,235.63 L759.60,234.77 L760.10,233.89 L760.60,233.00 L761.10,232.08 L761.60,231.15 L762.10,230.21 L762.60,229.24 L763.10,228.25 L763.60,227.25 L764.10,226.22 L764.60,225.17 L765.10,224.11 L765.60,223.01 L766.10,221.90 L766.60,220.76 L767.10,219.60 L767.60,218.41 L768.10,217.20 L768.60,215.96 L769.10,214.70 L769.60,213.41 L770.10,212.09 L770.60,210.74 L771.10,209.37 L771.60,207.97 L772.10,206.54 L772.60,205.08 L773.10,203.61 L773.60,202.10 L774.10,200.58 L774.60,199.03 L775.10,197.46 L775.60,195.87 L776.10,194.26 L776.60,192.63 L777.10,190.98 L777.60,189.31 L778.10,187.63 L778.60,185.93 L779.10,184.21 L779.60,182.48 L780.10,180.74 L780.60,178.98 L781.10,177.21 L781.60,175.42 L782.10,173.63 L782.60,171.83 L783.10,170.02 L783.60,168.20 L784.10,166.37 L784.60,164.53 L785.10,162.69" fill="none" stroke="#2b4bf5" stroke-width="2.6" stroke-dasharray="3.7 1.7"/>
<rect x="128.60" y="85.00" width="10.0" height="10.0" fill="#2b4bf5"/>
<rect x="141.87" y="106.75" width="10.0" height="10.0" fill="#2b4bf5"/>
<rect x="155.13" y="181.50" width="10.0" height="10.0" fill="#2b4bf5"/>
<rect x="168.39" y="222.75" width="10.0" height="10.0" fill="#2b4bf5"/>
<rect x="181.66" y="238.25" width="10.0" height="10.0" fill="#2b4bf5"/>
<rect x="194.93" y="245.25" width="10.0" height="10.0" fill="#2b4bf5"/>
<rect x="208.19" y="247.50" width="10.0" height="10.0" fill="#2b4bf5"/>
<rect x="221.45" y="246.00" width="10.0" height="10.0" fill="#2b4bf5"/>
<rect x="234.72" y="246.00" width="10.0" height="10.0" fill="#2b4bf5"/>
<rect x="247.99" y="235.25" width="10.0" height="10.0" fill="#2b4bf5"/>
<rect x="261.25" y="204.25" width="10.0" height="10.0" fill="#2b4bf5"/>
<rect x="274.51" y="140.00" width="10.0" height="10.0" fill="#2b4bf5"/>
<rect x="287.78" y="63.00" width="10.0" height="10.0" fill="#2b4bf5"/>
<rect x="301.04" y="44.50" width="10.0" height="10.0" fill="#2b4bf5"/>
<rect x="314.31" y="126.75" width="10.0" height="10.0" fill="#2b4bf5"/>
<rect x="327.58" y="192.75" width="10.0" height="10.0" fill="#2b4bf5"/>
<rect x="340.84" y="224.00" width="10.0" height="10.0" fill="#2b4bf5"/>
<rect x="354.11" y="235.75" width="10.0" height="10.0" fill="#2b4bf5"/>
<rect x="367.37" y="242.50" width="10.0" height="10.0" fill="#2b4bf5"/>
<rect x="380.63" y="241.75" width="10.0" height="10.0" fill="#2b4bf5"/>
<rect x="393.90" y="241.25" width="10.0" height="10.0" fill="#2b4bf5"/>
<rect x="407.16" y="234.00" width="10.0" height="10.0" fill="#2b4bf5"/>
<rect x="420.43" y="214.25" width="10.0" height="10.0" fill="#2b4bf5"/>
<rect x="433.70" y="168.25" width="10.0" height="10.0" fill="#2b4bf5"/>
<rect x="446.96" y="103.50" width="10.0" height="10.0" fill="#2b4bf5"/>
<rect x="460.23" y="47.25" width="10.0" height="10.0" fill="#2b4bf5"/>
<rect x="473.49" y="51.00" width="10.0" height="10.0" fill="#2b4bf5"/>
<rect x="486.75" y="119.00" width="10.0" height="10.0" fill="#2b4bf5"/>
<rect x="500.02" y="172.75" width="10.0" height="10.0" fill="#2b4bf5"/>
<rect x="513.28" y="195.75" width="10.0" height="10.0" fill="#2b4bf5"/>
<rect x="526.55" y="205.00" width="10.0" height="10.0" fill="#2b4bf5"/>
<rect x="539.82" y="207.00" width="10.0" height="10.0" fill="#2b4bf5"/>
<rect x="553.08" y="207.75" width="10.0" height="10.0" fill="#2b4bf5"/>
<rect x="566.35" y="202.50" width="10.0" height="10.0" fill="#2b4bf5"/>
<rect x="579.61" y="189.75" width="10.0" height="10.0" fill="#2b4bf5"/>
<rect x="592.88" y="161.75" width="10.0" height="10.0" fill="#2b4bf5"/>
<rect x="606.14" y="119.25" width="10.0" height="10.0" fill="#2b4bf5"/>
<rect x="619.40" y="60.75" width="10.0" height="10.0" fill="#2b4bf5"/>
<rect x="632.67" y="35.00" width="10.0" height="10.0" fill="#2b4bf5"/>
<rect x="645.94" y="95.00" width="10.0" height="10.0" fill="#2b4bf5"/>
<rect x="659.20" y="183.00" width="10.0" height="10.0" fill="#2b4bf5"/>
<rect x="672.47" y="231.50" width="10.0" height="10.0" fill="#2b4bf5"/>
<rect x="685.73" y="242.50" width="10.0" height="10.0" fill="#2b4bf5"/>
<rect x="699.00" y="250.75" width="10.0" height="10.0" fill="#2b4bf5"/>
<rect x="712.26" y="253.00" width="10.0" height="10.0" fill="#2b4bf5"/>
<rect x="725.53" y="256.75" width="10.0" height="10.0" fill="#2b4bf5"/>
<rect x="738.79" y="250.50" width="10.0" height="10.0" fill="#2b4bf5"/>
<rect x="752.06" y="234.00" width="10.0" height="10.0" fill="#2b4bf5"/>
<rect x="765.32" y="206.50" width="10.0" height="10.0" fill="#2b4bf5"/>
<rect x="778.59" y="163.25" width="10.0" height="10.0" fill="#2b4bf5"/>
</g>
<text transform="translate(128.2,48.29999999999999)  scale(0.955,1)" font-size="29.6" text-anchor="end">30000</text>
<text transform="translate(128.2,183.19999999999996)  scale(0.955,1)" font-size="29.6" text-anchor="end">20000</text>
<text transform="translate(128.2,318.1)  scale(0.955,1)" font-size="29.6" text-anchor="end">10000</text>
<text transform="translate(128.2,453.0)  scale(0.955,1)" font-size="29.6" text-anchor="end">0</text>
<text transform="translate(138.6,498.2)  scale(0.95,1)" font-size="29.6" text-anchor="middle">0</text>
<text transform="translate(315.56000000000006,498.2)  scale(0.95,1)" font-size="29.6" text-anchor="middle">20</text>
<text transform="translate(492.52000000000004,498.2)  scale(0.95,1)" font-size="29.6" text-anchor="middle">40</text>
<text transform="translate(669.48,498.2)  scale(0.95,1)" font-size="29.6" text-anchor="middle">60</text>
<text transform="translate(328.5,530)  scale(0.9031428571428571,1)" font-size="29.6" text-anchor="start">Scan</text>
<text transform="translate(395.5,530)  scale(1.0233949748743718,1)" font-size="29.6" text-anchor="start">Position</text>
<text transform="translate(510,530)  scale(1.0309754716981132,1)" font-size="29.6" text-anchor="start">[μm]</text>
<text transform="translate(25.6,328.5) rotate(-90) scale(0.969,1)" font-size="29.6" text-anchor="start">Signal</text>
<text transform="translate(25.6,243.8) rotate(-90) scale(0.958,1)" font-size="29.6" text-anchor="start">(ADU)</text>
</svg></body></html>
